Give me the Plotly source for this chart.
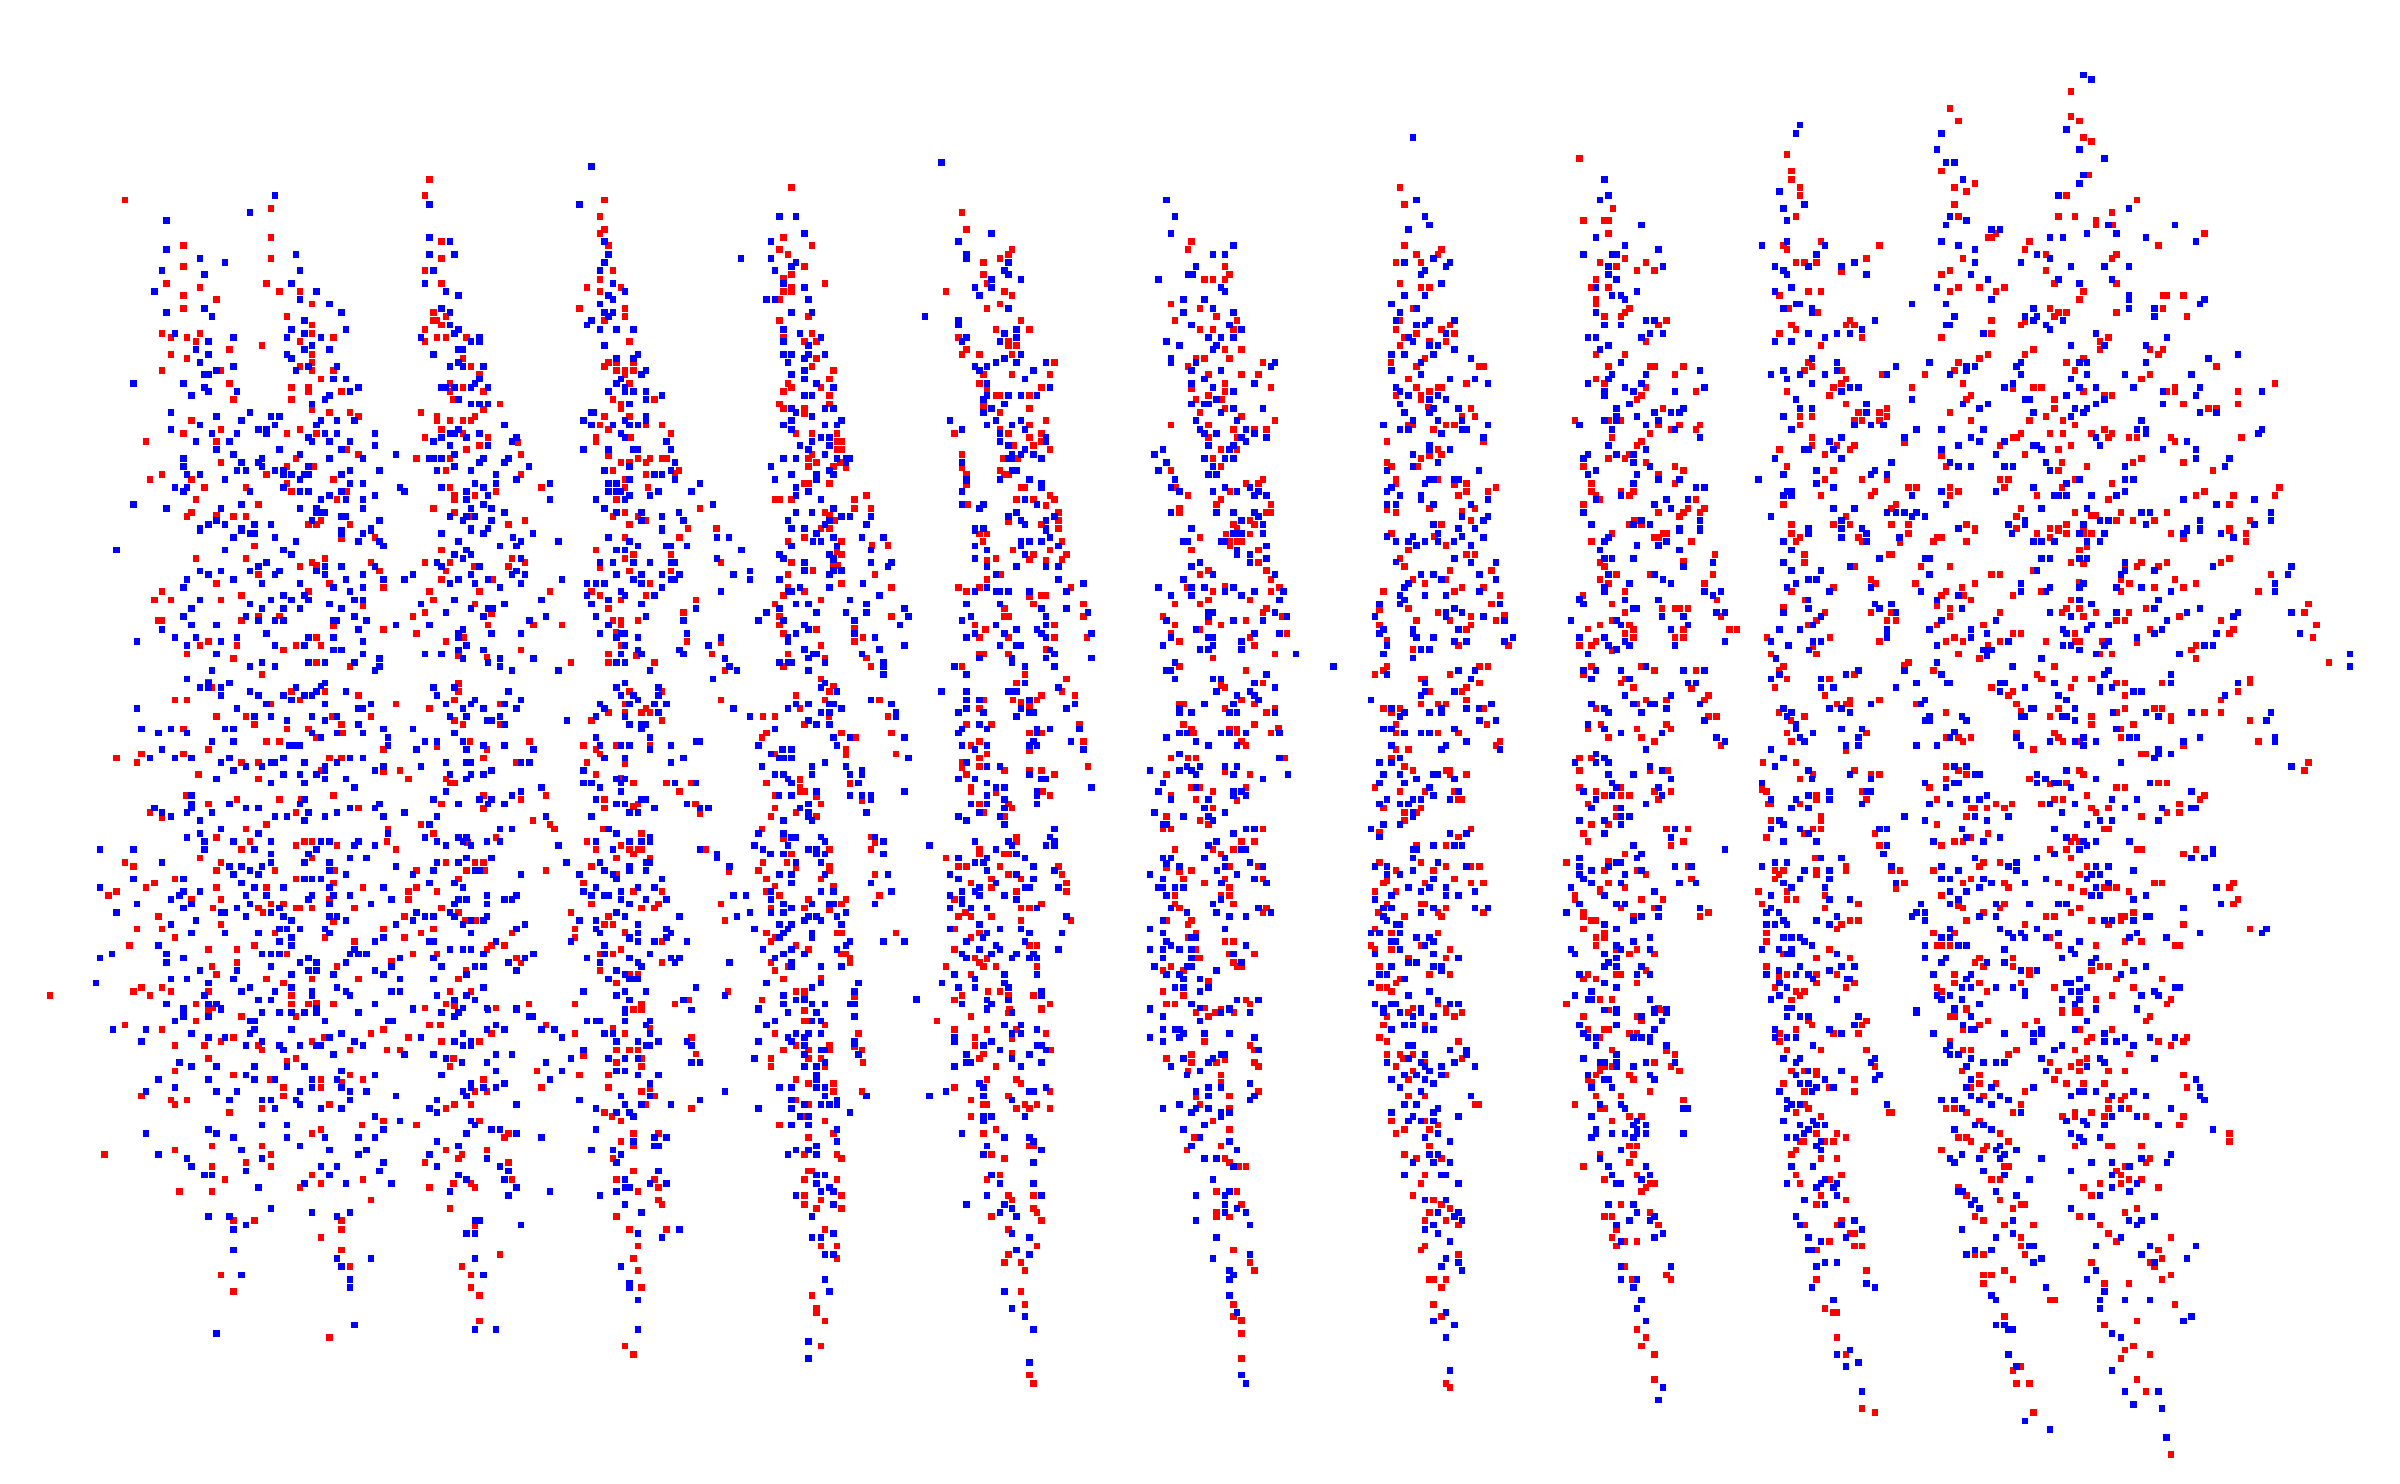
import plotly.graph_objects as go

# Values, grouped by the part of the plane they lie in.
# Each tile holds (u, v) readings; TILE_ORIGIN and the unit factors map them to plane units.
UNIT_U = 1.96
UNIT_V = 3.0

a_red = [(245,450),(842,388),(1551,412),(531,475),(833,437),(1185,450),(1176,499),(531,562),(360,587),(865,574),(1185,538),(1176,550),(1536,562),(1193,587),(1528,599),(1544,613),(531,625),(865,625),(360,650),(833,662),(1201,662),(1551,674),(1536,685),(326,700),(522,700),(865,700),(1176,688),(392,712),(548,724),(588,724),(1151,712),(1176,724),(1217,712),(1551,712),(1536,724),(1551,724),(360,737),(424,749),(1529,749),(612,762),(360,775),(850,787),(1136,775),(1225,775),(563,799),(874,799),(1225,799),(850,812),(857,812),(1185,812),(1528,812),(612,825),(865,825),(833,838),(318,850),(392,850),(612,850),(335,862),(367,862),(654,862),(857,862),(874,862),(914,862),(384,874),(588,874),(833,874),(1234,874),(1536,862),(514,887),(450,899),(335,913),(612,913),(367,925),(907,925),(612,937),(1193,937),(1208,937),(1242,937),(588,949),(923,949),(1185,949),(318,962),(433,962),(612,962),(654,962),(1208,962),(1225,962),(1242,962),(940,974),(1225,974),(629,987),(450,1000),(882,1000),(1234,1000),(1544,1000),(571,1012),(605,1012),(907,1012),(1551,1012),(605,1024),(669,1024),(882,1024),(948,1024),(1536,1024),(458,1049),(571,1049),(889,1049),(1201,1049),(1283,1049),(980,1062),(1217,1062),(1528,1062),(612,1078),(948,1078),(1217,1075),(1536,1075),(646,1087),(686,1087),(825,1087),(703,1099),(857,1099),(931,1099),(1185,1099),(1234,1099),(375,1112),(857,1112),(882,1112),(907,1112),(923,1112),(433,1138),(588,1138),(865,1138),(1193,1138),(1176,1125),(1298,1125),(1266,1125),(360,1150),(563,1150),(620,1150),(907,1150),(1315,1150),(1560,1150),(286,1174),(424,1174),(833,1162),(956,1162),(1168,1162),(1168,1174),(1236,1162),(1015,1178),(680,1199),(914,1199),(940,1187),(703,1213),(1021,1213),(1193,1216),(580,1225),(816,1225),(882,1225),(1250,1225),(1274,1225),(1298,1225),(1306,1225),(433,1237),(1217,1237),(1234,1237),(1266,1237),(563,1249),(614,1249),(318,1274),(522,1274),(874,1262),(1021,1274),(1201,1262),(1331,1262),(1266,1274),(1323,1270),(294,1288),(375,1288),(654,1288),(1225,1288),(563,1300),(401,1312),(482,1312),(882,1312),(1061,1312),(1225,1312),(1270,1312),(571,1324),(680,1324),(972,1324),(891,1337),(931,1337),(384,1349),(661,1349),(891,1349),(1208,1349),(1519,1349),(1528,1349),(1551,1349),(507,1363),(850,1375),(1372,1375),(375,1387),(891,1387),(1225,1387),(367,1399),(424,1396),(458,1399),(482,1399),(923,1399),(1201,1399),(1250,1399),(629,1412),(1266,1412),(1029,1412),(605,1424),(620,1424),(686,1424),(997,1424),(1234,1424),(1348,1436),(1404,1436)]
a_blue = [(1159,349),(539,437),(842,463),(1136,463),(490,487),(326,512),(1528,499),(1560,499),(842,562),(882,574),(1185,574),(1511,574),(326,599),(580,613),(842,613),(891,613),(1193,613),(392,625),(1452,625),(1511,625),(441,637),(1185,637),(1560,637),(1551,650),(318,662),(588,662),(850,662),(1176,662),(1519,662),(401,674),(571,700),(833,700),(1201,700),(1536,700),(303,724),(620,724),(874,724),(1225,724),(899,737),(1193,737),(588,749),(1201,749),(1502,749),(1519,749),(646,762),(1176,762),(865,775),(326,787),(401,775),(669,787),(882,787),(1185,787),(1201,787),(1551,787),(416,799),(1193,799),(597,812),(1159,812),(882,825),(1151,825),(571,838),(678,838),(899,838),(1176,838),(1208,838),(1242,838),(1536,838),(343,850),(597,850),(891,850),(1568,850),(458,862),(563,862),(629,862),(825,862),(940,862),(409,874),(923,874),(940,874),(1536,874),(384,899),(612,887),(1185,887),(597,899),(646,899),(899,899),(907,899),(409,913),(563,913),(850,913),(1250,913),(1536,913),(1551,913),(571,925),(1208,925),(1242,925),(392,937),(899,937),(1544,937),(458,949),(605,949),(661,949),(882,949),(907,949),(948,949),(580,962),(424,962),(1266,962),(401,974),(409,974),(1257,974),(1551,974),(940,987),(1217,987),(654,987),(678,987),(262,1000),(360,1000),(931,1000),(1208,1000),(401,1012),(703,1012),(865,1012),(874,1012),(891,1012),(923,1012),(956,1012),(1225,1012),(409,1024),(465,1024),(686,1024),(1193,1024),(1225,1024),(1242,1024),(1266,1024),(375,1037),(646,1037),(1298,1037),(637,1049),(899,1049),(1266,1049),(612,1062),(923,1062),(940,1062),(956,1062),(1234,1062),(335,1087),(490,1087),(1159,1087),(1164,1087),(1551,1075),(1560,1087),(424,1099),(531,1099),(548,1099),(1266,1099),(473,1112),(629,1112),(661,1112),(695,1112),(1144,1112),(1225,1112),(1266,1112),(1551,1112),(392,1125),(539,1125),(620,1125),(989,1125),(1159,1125),(1201,1125),(1234,1125),(1250,1125),(1536,1125),(335,1138),(507,1138),(522,1138),(899,1138),(1551,1138),(416,1150),(465,1150),(522,1150),(637,1150),(661,1150),(735,1150),(882,1150),(891,1150),(940,1150),(1217,1150),(605,1162),(865,1162),(914,1162),(1012,1162),(1225,1162),(384,1174),(450,1174),(612,1174),(646,1174),(686,1174),(850,1174),(1004,1174),(1306,1174),(735,1187),(882,1187),(956,1187),(1568,1187),(424,1199),(548,1199),(669,1199),(1144,1199),(1193,1199),(1242,1199),(1250,1199),(1315,1199),(458,1213),(588,1213),(776,1213),(891,1213),(360,1225),(514,1225),(646,1225),(711,1225),(842,1225),(850,1225),(865,1225),(948,1225),(997,1225),(1536,1225),(1560,1225),(473,1237),(507,1237),(940,1237),(989,1237),(1323,1237),(360,1249),(514,1249),(605,1249),(891,1249),(1037,1249),(1234,1249),(1511,1249),(465,1262),(482,1262),(539,1262),(556,1262),(686,1262),(744,1262),(857,1262),(923,1262),(1185,1262),(1315,1262),(367,1274),(392,1274),(556,1274),(571,1274),(597,1274),(605,1274),(669,1274),(972,1274),(1283,1274),(1298,1274),(1551,1274),(441,1288),(588,1288),(1012,1288),(1234,1288),(1323,1288),(1519,1288),(686,1300),(711,1300),(931,1300),(972,1300),(1078,1300),(1193,1300),(1208,1300),(1372,1300),(343,1312),(367,1312),(556,1312),(784,1312),(865,1312),(948,1312),(1560,1312),(360,1324),(490,1324),(588,1324),(605,1324),(669,1324),(793,1324),(914,1324),(1193,1324),(1208,1324),(1217,1324),(1291,1324),(1355,1324),(646,1337),(735,1337),(956,1337),(1234,1337),(1274,1337),(1560,1337),(629,1349),(678,1349),(711,1349),(914,1349),(1078,1349),(1168,1349),(1225,1349),(262,1363),(473,1363),(948,1363),(1397,1363),(326,1375),(433,1375),(588,1375),(620,1375),(711,1375),(923,1375),(963,1375),(1185,1375),(620,1387),(629,1387),(637,1387),(989,1387),(1208,1387),(1257,1387),(1331,1387),(1560,1387),(669,1399),(678,1399),(882,1399),(914,1399),(931,1399),(1298,1399),(424,1412),(612,1412),(744,1412),(907,1412),(963,1412),(1257,1412),(1340,1412),(1544,1412),(409,1424),(441,1424),(499,1424),(531,1424),(392,1436),(473,1436),(727,1436),(923,1436),(956,1436),(1298,1436),(1551,1436)]

b_red = [(318,487),(326,538),(24,587),(9,650),(49,700),(767,574),(760,599),(1176,412),(1185,463),(1528,325),(1593,475),(1536,512),(1185,587),(1208,613),(1257,599),(1250,613),(416,599),(409,613),(392,625),(360,637),(833,650),(1168,637),(1217,637),(360,674),(842,674),(793,688),(809,688),(833,688),(367,700),(1176,700),(1560,688),(1217,712),(1234,712),(286,724),(401,724),(1551,712),(416,737),(392,762),(727,762),(1560,749),(1560,762),(367,775),(784,775),(1201,775),(17,799),(816,799),(433,812),(735,812),(857,812),(1176,812),(1274,825),(24,850),(384,838),(450,838),(784,838),(809,838),(850,838),(1168,838),(1257,838),(1208,850),(1283,850),(311,862),(1185,862),(9,874),(32,874),(409,874),(1234,874),(1266,874),(409,887),(424,887),(1176,887),(326,899),(833,899),(865,899),(318,913),(352,913),(416,913),(1560,913),(32,925),(776,925),(793,925),(842,925),(1225,925),(499,937),(907,937),(24,949),(760,949),(1158,937),(1208,949),(1331,949),(1340,949),(66,962),(360,974),(416,974),(490,974),(801,974),(865,974),(899,974),(58,987),(1193,987),(1560,987),(352,1000),(833,1000),(1306,1000),(41,1012),(367,1016),(473,1012),(923,1012),(1208,1012),(1250,1012),(1257,1012),(767,1016),(833,1024),(1234,1024),(58,1037),(384,1037),(392,1037),(450,1037),(801,1037),(1168,1037),(1217,1037),(776,1049),(826,1049),(1217,1049),(58,1062),(360,1066),(9,1075),(392,1087),(450,1075),(784,1087),(833,1075),(1232,1071),(1315,1075),(9,1090),(865,1099),(1298,1099),(1323,1099),(482,1112),(931,1112),(1519,1112),(450,1125),(727,1125),(801,1125),(1193,1125),(1201,1125),(1266,1125),(1283,1125),(392,1138),(850,1138),(891,1138),(914,1138),(1242,1138),(24,1150),(73,1150),(303,1150),(409,1150),(473,1150),(450,1162),(801,1162),(857,1162),(73,1174),(81,1174),(473,1174),(1151,1174),(1340,1174),(73,1199),(81,1199),(458,1187),(490,1199),(419,1187),(825,1199),(857,1199),(24,1213),(318,1213),(1250,1199),(1257,1213),(17,1225),(399,1225),(426,1225),(809,1225),(1217,1225),(1234,1216),(32,1237),(17,1249),(66,1249),(79,1237),(90,1252),(318,1252),(825,1249),(1151,1237),(1159,1249),(1210,1249),(1536,1249),(392,1262),(727,1262),(326,1274),(401,1274),(409,1274),(907,1288),(1168,1288),(1250,1288),(9,1300),(17,1300),(58,1300),(326,1304),(737,1312),(874,1300),(899,1300),(1168,1300),(1283,1304),(1306,1300),(1551,1300),(433,1312),(441,1312),(1364,1312),(1306,1324),(1348,1324),(843,1324),(1551,1324),(130,1337),(490,1337),(760,1337),(1291,1337),(1560,1337),(107,1349),(424,1349),(458,1349),(499,1349),(825,1349),(329,1363),(107,1375),(139,1375),(482,1366),(816,1363),(923,1363),(1536,1363),(744,1375),(1234,1375),(1323,1375),(49,1387),(58,1396),(507,1387),(744,1387),(914,1387),(923,1387),(1151,1379),(1168,1387),(1298,1384),(68,1412),(409,1416),(507,1412),(882,1412),(1315,1412),(41,1436),(58,1436),(473,1424),(850,1424),(891,1424),(1257,1424),(507,1436),(857,1436)]
b_blue = [(277,337),(1201,262),(718,450),(1208,450),(735,499),(1225,499),(1234,525),(9,550),(375,550),(727,550),(1193,538),(311,574),(850,587),(1560,562),(326,613),(326,625),(809,613),(833,613),(1536,613),(409,637),(1185,637),(1242,625),(1274,637),(776,650),(1266,650),(401,662),(1225,662),(409,674),(760,674),(769,674),(1217,674),(375,688),(433,688),(703,688),(1257,700),(343,712),(375,712),(9,712),(825,712),(1560,712),(833,724),(352,737),(1185,737),(1225,737),(17,749),(752,749),(793,749),(1159,762),(409,775),(809,775),(1208,775),(24,787),(752,787),(850,787),(1176,787),(1560,787),(245,799),(311,812),(311,825),(767,825),(842,825),(1168,812),(1234,812),(1283,812),(1208,825),(1225,825),(424,838),(865,838),(401,850),(1266,850),(41,862),(326,862),(424,862),(801,862),(825,862),(850,862),(1193,862),(1544,862),(1560,862),(318,874),(392,874),(718,874),(1201,874),(17,887),(744,887),(816,887),(1234,887),(1250,887),(809,899),(1283,899),(17,913),(49,913),(433,913),(1159,913),(1185,913),(1242,913),(9,925),(401,925),(727,925),(1315,925),(384,937),(424,937),(482,937),(727,937),(776,937),(931,937),(1217,937),(343,949),(367,949),(923,949),(9,962),(352,962),(458,962),(767,962),(825,962),(1159,962),(1217,974),(9,987),(441,987),(793,987),(1274,987),(1323,987),(32,1000),(367,1000),(767,1000),(891,1000),(1348,1000),(1544,1000),(66,1012),(490,1012),(809,1012),(1168,1012),(9,1037),(24,1037),(367,1037),(409,1037),(433,1037),(465,1037),(1176,1024),(850,1024),(1193,1037),(1250,1037),(360,1049),(816,1049),(1234,1049),(1266,1049),(401,1062),(767,1062),(793,1062),(801,1062),(1176,1062),(49,1075),(66,1075),(375,1075),(850,1075),(907,1075),(1242,1075),(1291,1075),(360,1087),(825,1087),(1185,1087),(1234,1087),(24,1099),(81,1112),(294,1112),(384,1112),(433,1112),(776,1112),(857,1112),(1201,1112),(1250,1112),(1298,1112),(49,1125),(73,1125),(367,1125),(416,1125),(1144,1125),(1348,1125),(1528,1125),(318,1138),(441,1138),(784,1138),(874,1138),(1176,1138),(1193,1138),(1298,1138),(1306,1138),(392,1150),(793,1150),(816,1150),(891,1150),(1257,1150),(41,1162),(58,1162),(482,1162),(865,1162),(914,1162),(1340,1162),(24,1174),(392,1174),(482,1174),(874,1174),(58,1187),(409,1187),(801,1187),(850,1187),(1234,1187),(17,1199),(441,1199),(711,1199),(842,1199),(1234,1199),(1274,1199),(49,1213),(416,1213),(433,1213),(458,1213),(695,1213),(1201,1213),(1544,1213),(73,1225),(90,1225),(98,1225),(409,1225),(416,1225),(473,1225),(793,1225),(833,1225),(850,1225),(1536,1225),(90,1237),(318,1237),(718,1237),(1250,1237),(809,1249),(1201,1249),(58,1262),(416,1262),(424,1262),(703,1262),(1151,1262),(1331,1262),(1560,1262),(32,1274),(66,1274),(801,1274),(816,1274),(1544,1274),(32,1288),(326,1288),(392,1288),(450,1288),(735,1288),(1234,1288),(1242,1288),(1283,1288),(1291,1288),(473,1300),(1225,1300),(326,1292),(473,1312),(727,1312),(833,1312),(882,1312),(1159,1312),(17,1324),(318,1324),(744,1324),(809,1324),(857,1324),(899,1324),(1151,1324),(891,1337),(914,1337),(1176,1337),(1217,1337),(41,1349),(441,1349),(1217,1349),(1348,1349),(1560,1349),(66,1375),(318,1363),(360,1363),(465,1363),(1151,1363),(1168,1363),(1242,1363),(1315,1363),(352,1375),(24,1387),(424,1387),(727,1387),(816,1387),(850,1387),(891,1387),(1536,1387),(81,1399),(98,1399),(139,1399),(409,1399),(499,1399),(899,1399),(1298,1399),(1348,1399),(58,1412),(433,1412),(482,1412),(865,1412),(1340,1412),(49,1424),(130,1424),(441,1424),(907,1424),(1242,1424),(1551,1424),(9,1436),(343,1436),(360,1436),(482,1436),(767,1436),(1291,1436),(1323,1436)]

c_red = [(923,124),(686,176),(703,213),(923,199),(940,213),(367,313),(948,262),(963,274),(375,363),(669,363),(375,388),(958,375),(392,412),(735,400),(695,412),(718,424),(392,437),(914,437),(1053,450),(695,463),(384,499),(703,499),(899,499),(931,499),(1004,487),(972,512),(972,525),(1005,525),(9,512),(17,512),(17,550),(1185,550),(760,562),(767,562),(776,550),(842,574),(433,574),(360,587),(367,599),(548,587),(1095,587),(833,599),(874,613),(1012,613),(49,625),(522,625),(711,625),(1004,625),(0,637),(90,637),(384,637),(401,637),(424,637),(32,650),(73,662),(107,662),(473,664),(686,662),(874,662),(669,674),(891,700),(1012,700),(17,712),(703,712),(744,712),(793,712),(409,724),(433,724),(686,724),(776,724),(948,724),(352,737),(1103,737),(1111,737),(1144,737),(940,749),(58,775),(370,775),(882,775),(1103,775),(49,787),(427,787),(899,787),(914,787),(1012,787),(9,799),(41,799),(891,799),(1151,799),(130,812),(490,812),(767,812),(833,816),(115,825),(375,825),(482,825),(499,825),(825,825),(384,838),(352,850),(767,850),(90,874),(514,862),(669,862),(997,862),(980,874),(433,887),(850,899),(980,899),(1078,899),(1103,899),(49,913),(760,913),(833,913),(1095,913),(948,925),(744,925),(409,937),(703,937),(914,937),(17,949),(98,949),(107,949),(164,949),(416,949),(1208,949),(401,962),(473,962),(695,962),(931,962),(147,974),(554,974),(637,974),(1078,974),(482,987),(1061,987),(9,1000),(473,1000),(711,1000),(1323,1000),(90,1012),(458,1012),(612,1012),(850,1012),(865,1012),(1127,1012),(809,1016),(188,1024),(367,1024),(948,1024),(1111,1024),(1127,1024),(1250,1024),(81,1037),(450,1037),(727,1037),(989,1037),(1004,1037),(73,1049),(718,1049),(891,1049),(482,1062),(1144,1062),(1250,1062),(123,1075),(563,1075),(891,1075),(1193,1075),(1208,1075),(507,1087),(548,1087),(686,1087),(392,1099),(416,1099),(563,1099),(874,1099),(17,1112),(41,1112),(499,1112),(514,1112),(548,1112),(727,1112),(842,1112),(907,1112),(115,1125),(156,1125),(196,1125),(392,1125),(931,1125),(139,1138),(188,1138),(989,1138),(98,1150),(825,1150),(882,1150),(907,1150),(963,1150),(1004,1150),(24,1162),(416,1162),(809,1162),(816,1162),(997,1162),(1037,1162),(1053,1162),(1119,1162),(1257,1162),(81,1174),(1127,1174),(597,1178),(73,1187),(416,1187),(465,1187),(499,1187),(784,1187),(923,1187),(352,1199),(490,1199),(899,1199),(441,1213),(669,1216),(833,1213),(17,1225),(49,1225),(58,1213),(1061,1225),(90,1237),(906,1237),(1045,1237),(1144,1237),(147,1249),(367,1249),(678,1249),(955,1249),(164,1262),(458,1262),(899,1262),(1201,1262),(115,1274),(441,1288),(514,1288),(563,1290),(784,1288),(801,1288),(931,1288),(147,1300),(1004,1300),(605,1312),(620,1312),(686,1312),(793,1312),(906,1312),(1332,1312),(41,1324),(66,1324),(539,1324),(703,1324),(1185,1324),(58,1337),(433,1337),(531,1337),(686,1337),(857,1337),(1168,1337),(1242,1337),(1323,1337),(0,1349),(188,1349),(997,1349),(360,1363),(580,1363),(1234,1363),(172,1375),(205,1375),(571,1375),(825,1375),(115,1387),(164,1387),(196,1387),(931,1387),(963,1396),(972,1396),(1021,1387),(1111,1387),(156,1399),(482,1399),(816,1399),(68,1412),(58,1424),(81,1424),(375,1424),(458,1424),(490,1424),(571,1424),(605,1424),(718,1424),(914,1424),(1012,1412),(1045,1412),(1087,1412),(1274,1412),(735,1436),(816,1436),(882,1436),(899,1436),(948,1436),(1234,1436)]
c_blue = [(948,75),(963,88),(392,225),(384,250),(669,250),(914,238),(661,299),(940,299),(989,325),(678,337),(695,337),(948,375),(9,388),(711,388),(940,400),(352,424),(17,437),(899,437),(0,450),(401,463),(360,475),(1037,475),(686,499),(367,512),(718,512),(81,525),(678,525),(997,525),(1127,525),(767,538),(784,538),(955,550),(1012,550),(882,562),(907,562),(1070,562),(367,574),(669,574),(1168,574),(49,587),(318,587),(441,587),(703,587),(115,599),(735,599),(24,613),(32,613),(424,613),(857,613),(882,625),(499,637),(735,637),(825,637),(17,650),(123,650),(343,650),(409,650),(473,650),(923,650),(989,650),(1037,650),(360,662),(17,674),(367,674),(522,674),(727,674),(32,688),(760,688),(899,688),(1004,688),(940,700),(375,712),(661,712),(73,724),(343,724),(24,737),(41,737),(1037,737),(49,749),(767,749),(1037,749),(1185,749),(384,762),(392,762),(612,762),(678,762),(1176,762),(360,775),(416,775),(850,775),(1037,775),(1087,775),(416,787),(695,799),(833,799),(857,799),(1087,799),(90,812),(107,812),(539,812),(850,812),(907,812),(9,825),(41,825),(678,825),(686,825),(874,825),(514,838),(882,838),(98,850),(123,850),(409,850),(465,850),(490,850),(752,850),(972,850),(81,862),(441,862),(1111,862),(343,874),(375,874),(17,887),(923,887),(989,887),(1070,887),(0,899),(416,925),(1193,925),(1250,913),(41,937),(465,937),(646,937),(825,937),(940,937),(955,937),(1070,937),(580,949),(718,949),(735,949),(816,949),(196,962),(360,962),(465,962),(718,962),(24,974),(90,974),(335,974),(392,974),(441,974),(563,974),(686,974),(825,974),(955,974),(1029,974),(1159,974),(17,987),(367,987),(923,987),(81,1000),(416,1000),(809,1000),(49,1012),(205,1012),(490,1012),(507,1012),(793,1012),(940,1012),(972,1012),(1046,1012),(1176,1012),(9,1024),(66,1024),(147,1024),(473,1024),(1103,1024),(1298,1024),(9,1037),(914,1037),(1168,1037),(384,1049),(612,1049),(833,1049),(842,1049),(989,1049),(58,1062),(522,1062),(711,1062),(760,1062),(972,1062),(1103,1062),(32,1075),(164,1075),(392,1075),(416,1075),(744,1075),(931,1075),(955,1075),(107,1087),(139,1087),(156,1087),(522,1087),(850,1087),(948,1087),(1176,1087),(1208,1087),(32,1099),(73,1099),(360,1099),(923,1099),(9,1112),(32,1112),(115,1112),(1061,1112),(90,1125),(499,1125),(531,1125),(556,1125),(24,1138),(147,1138),(375,1138),(620,1138),(669,1138),(752,1138),(1053,1138),(1070,1138),(1298,1138),(1070,1150),(1291,1150),(196,1162),(473,1162),(597,1162),(727,1162),(972,1162),(450,1174),(744,1174),(793,1174),(1151,1174),(17,1187),(703,1187),(850,1187),(857,1187),(980,1187),(90,1199),(401,1199),(409,1199),(458,1199),(669,1199),(865,1199),(1103,1199),(1168,1199),(32,1213),(66,1213),(776,1213),(343,1225),(473,1225),(1168,1225),(1234,1225),(66,1237),(571,1237),(686,1237),(874,1237),(98,1249),(703,1249),(727,1249),(793,1249),(809,1249),(1029,1249),(1225,1249),(424,1262),(539,1262),(882,1262),(73,1274),(360,1274),(531,1274),(563,1274),(115,1288),(156,1288),(311,1288),(940,1288),(1029,1288),(1046,1288),(66,1300),(424,1300),(188,1312),(205,1312),(458,1312),(850,1312),(367,1324),(375,1324),(669,1324),(776,1324),(914,1300),(1029,1324),(41,1337),(360,1337),(375,1337),(612,1337),(891,1337),(899,1337),(914,1337),(963,1337),(1012,1337),(130,1349),(172,1349),(1144,1349),(1283,1349),(107,1363),(678,1363),(1208,1363),(139,1375),(458,1375),(499,1375),(865,1375),(955,1375),(563,1387),(580,1387),(597,1387),(620,1387),(1061,1387),(1078,1387),(1315,1387),(335,1399),(612,1399),(637,1399),(81,1412),(196,1412),(473,1412),(833,1412),(980,1412),(997,1412),(1176,1412),(1315,1412),(66,1424),(98,1424),(801,1424),(833,1424),(948,1424),(1070,1424),(1283,1424),(156,1436),(196,1436),(409,1436),(473,1436),(514,1436),(703,1436),(1151,1436),(1176,1436)]

d_red = [(499,48),(735,22),(669,26),(1332,22),(1225,22),(384,85),(482,85),(637,85),(865,60),(1168,60),(1242,73),(1315,73),(1544,35),(1225,85),(612,97),(727,97),(833,97),(882,97),(1004,85),(1029,97),(588,109),(620,105),(929,109),(997,109),(1413,97),(1551,97),(744,123),(874,123),(1176,113),(1234,123),(507,134),(1315,123),(1544,134),(424,160),(646,160),(865,148),(965,148),(1274,160),(752,172),(1544,172),(318,184),(605,184),(842,184),(940,184),(1078,184),(1159,184),(303,210),(335,210),(433,210),(473,197),(850,210),(1176,197),(1266,197),(1217,210),(1364,210),(1536,197),(711,226),(931,222),(1519,222),(833,247),(1193,235),(1340,247),(507,258),(548,258),(809,260),(963,252),(1528,260),(311,272),(318,272),(473,272),(1201,272),(1217,272),(1250,272),(654,287),(956,285),(1046,285),(1102,285),(1217,285),(1528,285),(752,298),(816,310),(1207,306),(1536,310),(409,334),(620,322),(874,334),(908,322),(1347,334),(392,347),(465,347),(580,347),(629,347),(1413,338),(1217,347),(556,360),(1021,360),(367,372),(899,376),(1193,372),(1396,372),(1544,372),(458,385),(955,381),(1248,376),(620,397),(686,409),(1119,397),(1193,397),(1283,397),(1421,422),(1536,410),(514,434),(409,457),(899,460),(416,472),(571,484),(637,484),(899,484),(1234,484),(1298,484),(703,497),(343,510),(367,510),(588,510),(891,510),(1413,510),(1560,497),(531,522),(776,522),(980,522),(1225,522),(1266,535),(842,535),(1193,547),(1225,547),(1257,547),(1274,547),(1568,535),(424,559),(482,559),(651,559),(727,559),(1495,559),(1519,559),(891,572),(1159,572),(1298,572),(499,584),(669,584),(907,584),(980,584),(360,597),(563,597),(605,597),(1502,609),(671,609),(620,622),(1494,622),(522,634),(548,634),(921,634),(1038,634),(1144,647),(1207,647),(1274,647),(409,659),(752,659),(857,650),(955,659),(1168,659),(360,672),(277,672),(228,684),(1176,672),(646,684),(669,684),(948,684),(269,697),(473,697),(507,697),(1012,697),(1151,697),(1225,702),(1519,672),(630,722),(752,724),(784,722),(389,734),(1168,734),(507,747),(801,747),(874,747),(882,759),(891,759),(1217,744),(1242,759),(1306,759),(1355,759),(1502,759),(1332,784),(1568,772),(366,797),(654,797),(948,797),(1070,797),(1568,784),(1519,797),(465,809),(548,809),(590,809),(1021,809),(1185,809),(1250,822),(409,822),(865,822),(1363,822),(1185,834),(1242,830),(703,834),(1519,834),(294,847),(580,847),(948,836),(1372,851),(1511,859),(1560,847),(318,863),(522,884),(1045,872),(825,884),(1078,884),(482,897),(760,897),(1087,897),(1182,897),(1494,897),(850,910),(1257,910),(424,922),(972,922),(1536,927),(490,934),(580,947),(597,934),(612,934),(661,947),(759,934),(916,938),(1151,934),(1217,947),(473,959),(776,959),(1168,959),(1234,959),(1250,959),(1258,959),(1383,959),(612,984),(392,984),(1242,972),(1551,972),(1274,984),(1208,984),(245,997),(433,997),(874,997),(931,997),(948,997),(1495,997),(1543,997),(262,1009),(1159,1009),(424,1022),(539,1022),(816,1022),(657,1022),(914,1022),(950,1022),(1070,1022),(1429,1026),(1487,1022),(1560,1013),(1209,1032),(343,1047),(303,1059),(580,1047),(654,1059),(899,1047),(1144,1059),(1502,1047),(286,1072),(424,1072),(522,1072),(711,1072),(816,1072),(1519,1068),(228,1084),(801,1084),(857,1084),(1242,1084),(1298,1084),(1502,1084),(213,1097),(1528,1097),(375,1107),(433,1109),(646,1107),(801,1109),(531,1122),(556,1122),(1291,1122),(1159,1122),(1413,1122),(417,1134),(507,1134),(580,1134),(588,1134),(612,1134),(695,1134),(865,1134),(1257,1134),(1283,1134),(1511,1134),(515,1147),(899,1147),(1119,1147),(311,1159),(793,1159),(1193,1159),(654,1174),(912,1172),(932,1172),(1421,1172),(433,1184),(1185,1184),(1201,1184),(269,1197),(318,1197),(752,1197),(850,1197),(1127,1197),(1225,1207),(539,1209),(825,1209),(1004,1209),(1502,1209),(343,1222),(637,1222),(793,1222),(1127,1222),(1519,1222),(695,1234),(1298,1234),(1511,1234),(254,1247),(499,1247),(963,1247),(989,1247),(955,1259),(1217,1259),(1560,1247),(409,1259),(465,1259),(563,1272),(809,1272),(857,1272),(1176,1272),(1201,1272),(1012,1284),(767,1294),(1021,1299),(465,1297),(1298,1297),(1511,1297),(416,1309),(661,1309),(1544,1309),(913,1321),(424,1334),(1176,1322),(1519,1322),(1234,1334),(1250,1334),(522,1347),(556,1359),(612,1347),(703,1347),(899,1347),(1536,1347),(277,1372),(318,1372),(1208,1359),(262,1384),(335,1384),(409,1384),(882,1384),(923,1384),(1560,1384),(98,1397),(294,1397),(571,1397),(1427,1384),(620,1419),(384,1422),(571,1422),(605,1422),(654,1422),(874,1422),(1037,1422),(1127,1422),(1257,1422),(1323,1422),(1350,1410),(1494,1410),(417,1434),(833,1434),(891,1426),(972,1434),(1242,1438),(1257,1438)]
d_blue = [(473,2),(392,2),(669,10),(711,10),(727,2),(865,10),(923,2),(948,10),(1045,10),(1298,2),(458,22),(490,10),(499,10),(539,22),(669,2),(1193,22),(1405,22),(1429,22),(1005,22),(580,35),(703,35),(744,35),(899,35),(1021,35),(1095,35),(1234,35),(228,60),(441,60),(556,60),(752,48),(914,60),(980,48),(1012,48),(1208,60),(1225,60),(1250,48),(1306,48),(1315,48),(1347,48),(1453,60),(1551,48),(571,73),(891,73),(923,73),(907,85),(1021,85),(1405,85),(1528,73),(1536,85),(522,97),(857,97),(1176,97),(1201,97),(1242,97),(1274,97),(1315,97),(1323,97),(507,109),(637,109),(669,109),(735,109),(865,109),(940,109),(392,123),(433,123),(490,123),(548,123),(620,123),(1012,123),(1470,123),(409,134),(539,134),(637,134),(711,134),(809,134),(923,134),(1004,134),(1029,134),(1208,134),(1257,134),(1298,134),(1332,134),(1438,134),(367,148),(458,148),(678,148),(752,148),(793,148),(899,148),(956,148),(1102,148),(1242,148),(1323,148),(1470,148),(1528,148),(514,160),(588,160),(882,160),(931,160),(1021,160),(1151,160),(1168,160),(1185,160),(1257,160),(1315,148),(360,172),(654,172),(711,172),(980,172),(1298,172),(686,184),(1217,184),(1413,184),(1544,184),(1551,184),(556,197),(597,197),(1151,197),(1225,197),(1283,197),(392,210),(531,210),(571,210),(605,210),(695,210),(711,210),(891,210),(1061,210),(1193,210),(490,222),(646,222),(825,222),(989,222),(1159,222),(1257,222),(1560,222),(375,235),(514,235),(556,235),(588,235),(669,235),(923,235),(956,235),(965,235),(1364,235),(1528,235),(874,247),(1502,247),(360,260),(482,260),(695,260),(948,260),(1070,260),(1168,260),(1266,260),(507,272),(539,272),(556,272),(654,272),(661,272),(718,272),(1038,272),(1340,272),(1487,272),(1536,272),(375,285),(424,285),(776,285),(842,285),(1193,285),(318,298),(703,298),(907,298),(522,310),(963,310),(1021,310),(1176,310),(1217,310),(1225,310),(1347,310),(1560,310),(899,310),(343,322),(384,322),(465,322),(605,322),(654,322),(899,322),(1208,322),(1250,322),(1413,322),(1544,322),(269,334),(433,334),(711,334),(1544,334),(367,347),(539,347),(597,347),(914,347),(1225,347),(1389,347),(654,360),(669,360),(899,360),(948,360),(1250,360),(1332,360),(424,372),(711,372),(833,372),(865,372),(1217,372),(1257,372),(1340,372),(744,385),(907,385),(980,385),(1046,385),(1421,385),(605,397),(637,397),(514,397),(695,397),(956,397),(1208,397),(1225,397),(1528,397),(1544,397),(1551,397),(490,409),(539,409),(744,409),(980,409),(1430,409),(416,422),(735,422),(1004,422),(1095,422),(1274,422),(1445,422),(367,447),(1397,447),(409,459),(450,459),(637,459),(1225,459),(392,472),(409,472),(433,472),(580,472),(629,468),(850,472),(891,472),(1208,472),(1291,472),(490,484),(620,484),(678,484),(997,484),(433,497),(507,497),(556,497),(597,497),(612,497),(857,497),(1217,497),(1242,497),(1291,497),(571,510),(931,510),(1021,510),(1250,510),(522,522),(637,522),(727,522),(874,522),(923,522),(989,522),(1176,522),(1234,522),(1283,522),(1306,522),(1560,522),(269,535),(465,535),(703,535),(711,535),(907,535),(948,535),(1012,535),(1185,535),(1438,535),(1544,535),(1291,547),(499,559),(531,559),(612,559),(661,559),(882,559),(914,559),(980,559),(1168,559),(1225,559),(1470,559),(563,572),(637,572),(955,572),(963,572),(1111,572),(703,584),(989,584),(1234,584),(1257,584),(1266,584),(277,597),(335,597),(441,597),(458,597),(752,597),(809,597),(1257,597),(1519,597),(311,609),(367,609),(612,609),(661,609),(711,609),(891,609),(629,622),(760,622),(1168,622),(1274,622),(416,634),(458,634),(833,634),(857,634),(907,634),(1364,634),(1372,634),(567,647),(575,647),(588,647),(760,647),(948,647),(989,647),(1176,647),(1217,647),(1234,647),(1315,647),(1487,647),(318,659),(816,659),(914,659),(1046,659),(1274,659),(1534,659),(1551,659),(1511,672),(294,684),(343,684),(375,684),(450,684),(556,684),(686,684),(711,684),(1185,684),(1225,684),(1340,684),(1528,684),(1536,684),(1551,684),(433,697),(531,697),(539,697),(597,697),(661,697),(874,697),(914,697),(923,697),(1021,697),(1038,697),(1315,697),(482,709),(514,709),(637,709),(752,709),(825,709),(1494,709),(458,722),(637,722),(735,722),(963,722),(1144,722),(556,734),(588,734),(620,734),(882,734),(923,734),(948,734),(1519,734),(1536,734),(424,747),(637,747),(678,747),(914,747),(1208,747),(1225,747),(1544,747),(531,759),(597,759),(1144,759),(1159,759),(1217,759),(1323,759),(1364,759),(1551,759),(695,772),(1061,772),(1176,772),(874,784),(1021,784),(1217,784),(375,797),(1004,797),(1527,797),(1551,797),(597,809),(850,809),(940,809),(963,809),(1168,809),(1257,809),(1266,809),(375,822),(450,822),(588,822),(744,822),(899,822),(956,822),(989,822),(1208,822),(1225,822),(1347,822),(303,834),(375,834),(482,834),(507,834),(686,834),(735,834),(1283,834),(1372,834),(1389,834),(1568,834),(318,847),(367,847),(416,847),(605,847),(661,847),(793,847),(1234,847),(1250,847),(335,859),(539,859),(563,859),(637,859),(752,859),(857,859),(1070,859),(1159,859),(392,872),(597,872),(1536,872),(842,884),(433,897),(980,897),(1004,897),(1193,897),(392,910),(507,910),(760,910),(1208,910),(1487,910),(1536,910),(367,922),(833,922),(899,922),(914,922),(1274,922),(1551,922),(1560,922),(401,934),(458,934),(531,934),(629,934),(646,934),(703,934),(857,934),(907,934),(955,934),(980,934),(1168,934),(1234,934),(1257,934),(1274,934),(695,947),(735,947),(874,947),(923,947),(1095,947),(1479,947),(1544,947),(196,959),(262,959),(401,959),(499,959),(620,959),(1201,959),(1372,959),(1495,959),(531,972),(605,972),(1405,972),(1510,972),(1536,972),(686,984),(718,984),(914,984),(963,984),(1405,984),(318,997),(531,997),(597,997),(646,997),(857,997),(899,997),(1110,997),(1176,997),(1266,997),(1274,997),(1560,997),(450,1009),(473,1009),(514,1009),(776,1009),(1234,1009),(1430,1009),(490,1022),(646,1022),(850,1022),(931,1022),(940,1022),(1185,1022),(1234,1022),(1266,1022),(458,1034),(507,1034),(678,1034),(809,1034),(1021,1034),(1136,1034),(1201,1034),(1528,1034),(1551,1034),(262,1047),(360,1047),(597,1047),(612,1047),(629,1047),(1208,1047),(1298,1047),(473,1059),(842,1059),(891,1059),(1551,1059),(196,1072),(499,1072),(556,1072),(646,1072),(752,1072),(907,1072),(1168,1072),(1250,1072),(1283,1072),(360,1084),(392,1084),(1144,1084),(1217,1084),(1511,1084),(352,1097),(482,1097),(522,1097),(612,1097),(654,1097),(686,1097),(955,1097),(1012,1097),(1159,1097),(1185,1097),(1193,1097),(1438,1097),(1462,1097),(335,1109),(605,1109),(767,1109),(899,1109),(914,1109),(989,1109),(1004,1109),(1217,1109),(1266,1109),(1306,1109),(1511,1109),(269,1122),(375,1122),(490,1122),(646,1122),(727,1122),(891,1122),(955,1122),(1234,1122),(1536,1122),(360,1134),(465,1134),(548,1134),(1551,1134),(228,1147),(433,1147),(441,1147),(531,1147),(816,1147),(882,1147),(1208,1147),(1470,1147),(1511,1147),(1536,1147),(482,1159),(556,1159),(646,1159),(661,1159),(833,1159),(850,1159),(891,1159),(955,1159),(1225,1159),(1332,1159),(1445,1159),(384,1172),(571,1172),(678,1172),(809,1172),(923,1172),(948,1172),(1136,1172),(1168,1172),(335,1184),(776,1184),(907,1184),(1029,1184),(1250,1184),(1528,1184),(1551,1184),(548,1197),(563,1197),(588,1197),(637,1197),(1012,1197),(1168,1197),(1306,1197),(1479,1197),(1544,1197),(375,1209),(441,1209),(507,1209),(646,1209),(923,1209),(1176,1209),(1250,1209),(1315,1209),(1536,1209),(571,1222),(752,1222),(1234,1222),(1306,1222),(1528,1222),(548,1234),(735,1234),(842,1234),(850,1234),(972,1234),(1119,1234),(1234,1226),(1250,1234),(1283,1234),(1347,1234),(311,1247),(571,1247),(1185,1247),(695,1259),(882,1259),(907,1259),(923,1259),(1495,1259),(1551,1259),(220,1272),(326,1272),(514,1272),(531,1272),(548,1272),(686,1272),(703,1272),(718,1272),(948,1272),(1046,1272),(1185,1272),(1274,1272),(1536,1272),(196,1284),(360,1284),(605,1284),(784,1284),(850,1284),(1029,1284),(1151,1284),(1234,1284),(1315,1284),(1332,1284),(1519,1284),(326,1297),(588,1297),(620,1297),(678,1297),(997,1297),(1176,1297),(1250,1297),(1323,1297),(1430,1297),(1551,1297),(531,1309),(767,1309),(865,1309),(931,1309),(948,1309),(1257,1309),(1551,1309),(392,1322),(465,1322),(605,1322),(620,1322),(735,1322),(1012,1322),(1208,1322),(571,1334),(654,1334),(752,1334),(914,1334),(1225,1334),(335,1347),(367,1347),(458,1347),(784,1347),(850,1347),(1193,1347),(1234,1347),(1242,1347),(1250,1347),(188,1359),(409,1359),(1502,1359),(490,1372),(571,1372),(661,1372),(948,1372),(1364,1372),(473,1384),(539,1384),(612,1384),(678,1384),(767,1384),(784,1384),(1144,1384),(1225,1384),(1266,1384),(401,1397),(612,1397),(686,1397),(857,1397),(914,1397),(1208,1397),(1421,1397),(1536,1397),(507,1410),(531,1410),(891,1410),(931,1410),(1234,1410),(1340,1410),(1560,1410),(326,1422),(409,1422),(424,1422),(735,1422),(1536,1422),(360,1434),(433,1434),(620,1434),(809,1434),(907,1434),(955,1434),(1012,1434),(1225,1438),(1487,1434)]

e_red = [(9,22),(81,35),(141,47),(172,47),(73,60),(81,73),(73,66),(66,100),(74,107),(25,122),(147,134),(81,160),(179,172),(9,184),(41,210),(179,260),(32,298),(107,294),(123,322),(107,334),(41,347),(49,384),(130,384),(139,409),(41,447),(66,468),(58,484),(49,510),(156,510),(57,560),(172,559),(9,584),(81,609),(109,622),(179,609),(90,659),(90,674),(188,672),(98,760),(0,749),(9,784),(32,800),(122,812),(41,822),(32,859),(139,921),(147,938),(58,959),(139,959),(58,1009),(58,1021),(147,1034),(41,1047),(66,1068),(156,1097),(90,1109),(17,1109),(81,1122),(9,1134),(58,1138),(73,1209),(81,1209),(188,1209),(17,1259),(81,1272),(90,1272),(98,1284),(98,1297),(41,1344),(9,1384),(9,1396),(107,1401),(352,12),(367,12),(359,35),(514,35),(417,60),(490,60),(522,73),(458,73),(450,88),(514,88),(384,85),(367,92),(482,92),(393,134),(367,148),(311,172),(326,184),(352,172),(531,172),(473,197),(482,197),(450,200),(458,222),(556,222),(401,235),(401,260),(409,260),(556,260),(343,285),(499,285),(364,298),(352,322),(409,322),(499,322),(563,322),(482,359),(352,372),(360,372),(409,372),(318,409),(441,434),(522,447),(424,459),(514,484),(473,497),(539,497),(360,510),(417,510),(465,510),(433,518),(450,526),(352,535),(326,584),(375,584),(548,584),(450,609),(473,609),(352,634),(556,634),(335,647),(450,662),(367,672),(352,684),(318,697),(318,714),(352,709),(564,709),(401,722),(450,720),(473,722),(326,734),(499,734),(335,772),(335,784),(475,784),(384,789),(490,797),(409,822),(352,822),(416,834),(360,847),(401,859),(424,921),(424,934),(352,959),(352,972),(401,972),(409,972),(286,984),(311,1009),(326,1009),(392,1009),(507,1009),(409,1034),(514,1034),(335,1059),(375,1047),(433,1047),(375,1072),(522,1059),(424,1084),(522,1084),(303,1109),(473,1122),(433,1134),(450,1134),(324,1147),(311,1159),(335,1159),(375,1159),(433,1172),(531,1172),(303,1197),(367,1209),(352,1209),(335,1222),(450,1247),(465,1247),(303,1259),(343,1284),(367,1286),(352,1297),(286,1309),(360,1309),(384,1309),(465,1309),(335,1334),(368,1384),(392,1384),(458,1397),(318,1397),(409,1397),(303,1410),(490,1422),(473,1434),(411,1438),(835,12),(882,12),(784,22),(842,35),(857,35),(865,35),(843,48),(899,60),(767,60),(899,97),(801,122),(914,122),(784,134),(923,148),(759,172),(833,168),(940,172),(809,184),(923,184),(882,210),(801,210),(735,222),(784,222),(914,235),(907,247),(711,260),(945,260),(874,272),(801,275),(825,285),(735,285),(784,298),(727,310),(955,310),(882,322),(744,334),(891,347),(931,372),(809,384),(744,409),(874,422),(825,466),(833,472),(907,459),(865,510),(752,522),(744,522),(833,535),(891,522),(931,535),(914,547),(752,584),(891,584),(767,597),(842,597),(857,597),(938,594),(771,609),(857,609),(923,609),(865,634),(874,647),(727,684),(760,684),(776,684),(950,684),(833,726),(718,734),(882,734),(767,772),(784,772),(809,784),(874,772),(727,797),(776,809),(857,811),(809,834),(718,859),(784,872),(801,884),(711,897),(727,897),(907,897),(865,934),(891,934),(735,959),(809,959),(850,959),(825,972),(843,1009),(718,1013),(899,1009),(767,1022),(744,1026),(793,1059),(752,1047),(833,1047),(907,1047),(842,1072),(825,1096),(842,1097),(735,1097),(735,1122),(850,1122),(914,1134),(744,1134),(907,1147),(718,1172),(767,1172),(760,1184),(776,1209),(833,1234),(850,1234),(760,1222),(776,1259),(842,1272),(891,1272),(776,1284),(784,1284),(850,1297),(857,1309),(727,1309),(711,1322),(752,1322),(865,1309),(801,1355),(711,1384),(752,1397),(718,1422),(735,1422),(874,1410),(882,1422),(793,1434),(825,1438)]
e_blue = [(32,10),(122,22),(164,22),(66,22),(41,35),(25,35),(73,48),(139,60),(58,73),(66,85),(9,97),(66,90),(139,97),(179,97),(172,109),(9,122),(66,122),(81,122),(58,134),(123,160),(58,172),(0,172),(156,197),(98,210),(17,222),(130,222),(205,235),(32,247),(90,247),(130,247),(213,260),(107,272),(9,285),(196,285),(17,298),(107,310),(147,322),(205,347),(9,359),(156,359),(25,372),(32,372),(122,372),(17,384),(49,397),(164,397),(164,409),(17,422),(164,434),(49,459),(41,472),(73,484),(139,510),(17,522),(58,522),(66,522),(81,535),(179,522),(41,547),(58,547),(188,547),(188,559),(17,572),(32,584),(58,584),(66,622),(98,622),(205,622),(73,647),(213,684),(49,697),(24,709),(90,709),(122,722),(24,734),(98,734),(122,734),(115,759),(32,784),(205,784),(98,797),(122,797),(139,797),(139,809),(17,822),(17,847),(130,847),(17,859),(24,872),(41,921),(147,921),(49,934),(164,934),(17,959),(32,959),(32,972),(49,972),(164,972),(41,997),(49,1034),(172,1034),(139,1059),(41,1084),(66,1084),(179,1084),(24,1122),(58,1122),(66,1122),(147,1122),(90,1147),(17,1159),(32,1159),(73,1159),(9,1172),(41,1172),(81,1184),(24,1209),(24,1222),(98,1234),(164,1234),(205,1234),(90,1247),(73,1259),(9,1272),(41,1309),(81,1309),(41,1359),(115,1359),(24,1372),(107,1384),(9,1409),(228,1409),(24,1422),(49,1422),(98,1422),(107,1422),(343,2),(482,2),(490,22),(433,35),(450,35),(473,35),(343,48),(433,48),(507,48),(367,60),(441,73),(343,85),(367,109),(424,109),(482,109),(507,109),(384,134),(507,148),(556,160),(343,184),(367,172),(384,184),(392,184),(409,184),(450,184),(522,184),(326,222),(392,222),(473,235),(522,235),(335,260),(482,260),(564,247),(318,272),(384,285),(482,285),(343,310),(401,310),(424,298),(465,298),(473,310),(326,322),(482,322),(571,310),(392,347),(424,347),(433,347),(490,360),(499,372),(352,384),(416,384),(482,384),(571,384),(416,397),(303,409),(441,409),(499,409),(326,434),(441,459),(507,472),(277,484),(326,484),(409,484),(416,484),(424,484),(326,510),(352,510),(450,510),(539,522),(326,535),(433,535),(522,535),(311,547),(360,547),(450,547),(458,547),(424,559),(352,584),(318,597),(367,597),(465,597),(490,597),(548,597),(311,609),(465,609),(458,634),(531,634),(318,647),(367,647),(450,647),(465,647),(343,659),(556,659),(326,697),(367,709),(392,709),(450,734),(473,747),(482,747),(311,747),(343,747),(367,759),(384,772),(401,772),(571,772),(465,784),(367,797),(465,797),(401,809),(335,822),(367,822),(465,822),(401,834),(352,847),(311,859),(392,859),(326,872),(401,884),(499,897),(490,921),(343,934),(409,934),(482,947),(499,934),(254,947),(416,947),(499,947),(384,959),(424,972),(311,984),(367,984),(441,984),(343,997),(360,997),(458,1009),(367,1022),(499,1022),(294,1034),(424,1034),(311,1047),(458,1047),(384,1059),(352,1072),(441,1072),(450,1072),(507,1072),(318,1084),(343,1084),(294,1097),(352,1097),(401,1097),(318,1109),(424,1109),(318,1122),(294,1134),(335,1134),(367,1134),(465,1134),(522,1159),(352,1184),(294,1197),(392,1197),(433,1197),(367,1209),(450,1209),(514,1209),(359,1222),(326,1234),(441,1234),(352,1259),(392,1259),(384,1247),(507,1259),(318,1272),(375,1272),(424,1272),(458,1272),(326,1284),(416,1284),(450,1284),(465,1284),(303,1334),(401,1334),(465,1334),(343,1347),(278,1359),(401,1359),(311,1372),(343,1372),(409,1372),(473,1384),(473,1397),(409,1410),(367,1410),(318,1422),(375,1422),(367,1434),(760,34),(752,34),(825,34),(833,34),(850,10),(857,10),(865,10),(907,10),(914,48),(857,60),(857,73),(882,73),(784,97),(882,97),(914,85),(767,109),(809,134),(931,134),(752,148),(703,172),(767,172),(793,172),(850,172),(833,184),(891,184),(948,184),(727,197),(767,197),(865,197),(940,210),(801,247),(809,247),(931,247),(801,260),(955,260),(718,272),(850,272),(907,272),(776,298),(891,310),(940,310),(727,322),(801,322),(809,322),(865,334),(711,347),(809,347),(784,359),(801,359),(865,359),(972,372),(735,397),(718,422),(727,422),(1046,409),(914,434),(735,447),(809,447),(825,447),(891,459),(931,472),(816,484),(882,484),(857,497),(891,497),(899,510),(850,522),(793,522),(744,535),(744,547),(767,547),(842,547),(857,547),(931,547),(744,609),(759,609),(825,609),(842,609),(874,609),(940,609),(718,622),(776,634),(801,647),(857,647),(744,672),(940,684),(759,709),(784,709),(833,709),(857,709),(686,722),(744,722),(767,722),(776,734),(850,734),(956,734),(907,747),(711,759),(776,772),(703,784),(850,784),(865,784),(850,797),(874,797),(727,809),(801,809),(793,834),(695,847),(833,847),(752,859),(801,859),(809,872),(711,884),(718,884),(850,910),(874,897),(891,897),(816,934),(801,947),(865,959),(874,959),(711,984),(727,984),(793,984),(833,984),(882,997),(718,1000),(744,1009),(833,1009),(907,1009),(817,1022),(686,1034),(857,1034),(711,1047),(891,1047),(826,1059),(914,1059),(703,1072),(711,1072),(735,1072),(752,1072),(825,1109),(718,1097),(809,1122),(727,1134),(899,1134),(759,1147),(816,1147),(923,1147),(842,1159),(874,1159),(711,1172),(686,1197),(833,1197),(711,1209),(718,1234),(767,1222),(776,1222),(727,1247),(874,1247),(686,1259),(711,1259),(744,1259),(767,1259),(850,1272),(711,1284),(767,1284),(695,1309),(759,1309),(767,1309),(865,1297),(816,1322),(718,1334),(744,1334),(752,1347),(784,1347),(752,1372),(735,1372),(801,1372),(784,1384),(857,1410),(899,1410),(767,1422),(686,1434),(784,1434),(842,1434),(1151,20),(1168,34),(1193,34),(1201,20),(1225,34),(1250,34),(1250,10),(1298,20),(1315,46),(1340,22),(1282,34),(1208,46),(1168,96),(1283,85),(1315,97),(1364,97),(1217,134),(1242,134),(1332,134),(1193,160),(1185,172),(1257,148),(1364,148),(1176,197),(1225,197),(1266,197),(1332,184),(1185,210),(1136,222),(1176,222),(1372,222),(1266,247),(1298,247),(1283,235),(1266,260),(1340,260),(1127,260),(1381,272),(1144,298),(1201,298),(1291,298),(1136,310),(1201,310),(1208,322),(1242,322),(1283,334),(1306,334),(1381,334),(1397,322),(1151,347),(1217,359),(1234,359),(1144,372),(1201,384),(1291,422),(1323,422),(1151,434),(1315,447),(1225,459),(1283,484),(1225,484),(1217,497),(1119,510),(1355,522),(1159,535),(1234,547),(1257,535),(1257,547),(1306,535),(1331,535),(1185,547),(1176,559),(1332,572),(1364,572),(1144,597),(1159,597),(1283,597),(1185,609),(1217,609),(1234,609),(1306,634),(1159,647),(1266,647),(1257,659),(1372,659),(1136,697),(1159,697),(1176,684),(1144,734),(1176,734),(1208,747),(1242,734),(1250,734),(1283,747),(1136,759),(1185,759),(1234,772),(1291,784),(1242,797),(1151,809),(1201,809),(1217,809),(1274,809),(1136,822),(1176,822),(1193,822),(1201,847),(1201,859),(1144,884),(1176,884),(1119,897),(1274,910),(1306,910),(1136,921),(1242,947),(1283,947),(1298,947),(1201,959),(1208,959),(1201,984),(1250,997),(1127,1009),(1151,1009),(1306,1009),(1176,1034),(1151,1034),(1201,1022),(1242,1047),(1193,1072),(1234,1072),(1266,1072),(1323,1084),(1217,1084),(1159,1097),(1266,1097),(1291,1097),(1127,1109),(1144,1134),(1159,1134),(1217,1147),(1242,1134),(1323,1134),(1348,1134),(1144,1159),(1151,1172),(1168,1184),(1176,1184),(1119,1209),(1136,1209),(1176,1209),(1208,1222),(1234,1222),(1159,1234),(1168,1234),(1225,1247),(1242,1234),(1176,1259),(1127,1272),(1242,1272),(1291,1284),(1193,1297),(1208,1297),(1242,1309),(1159,1309),(1257,1309),(1257,1322),(1136,1334),(1151,1334),(1185,1347),(1119,1359),(1234,1384),(1193,1397),(1250,1410),(1127,1422),(1159,1422),(1168,1422),(1217,1434),(1274,1422),(1291,1422),(1144,1434)]
e_red_2 = [(1159,10),(1168,34),(1244,20),(1266,46),(1340,22),(1193,60),(1306,73),(1323,73),(1176,85),(1185,109),(1274,122),(1355,122),(1201,148),(1225,160),(1266,148),(1298,172),(1340,172),(1144,184),(1283,184),(1372,197),(1355,222),(1193,235),(1136,238),(1250,247),(1315,260),(1381,256),(1208,272),(1274,272),(1315,285),(1364,272),(1136,285),(1306,298),(1151,332),(1291,347),(1389,347),(1201,359),(1332,409),(1348,409),(1151,409),(1127,434),(1144,422),(1274,434),(1217,447),(1225,447),(1332,459),(1306,472),(1298,484),(1234,484),(1306,510),(1217,522),(1250,522),(1266,522),(1144,535),(1176,535),(1340,535),(1159,547),(1168,584),(1347,584),(1168,609),(1250,609),(1291,609),(1372,634),(1364,647),(1168,659),(1193,659),(1159,684),(1185,709),(1201,722),(1266,722),(1274,722),(1176,734),(1274,734),(1306,734),(1127,772),(1176,784),(1225,784),(1283,784),(1291,809),(1298,809),(1217,834),(1144,834),(1185,847),(1208,847),(1185,872),(1136,906),(1315,897),(1291,921),(1208,947),(1266,947),(1217,997),(1136,997),(1315,1009),(1332,1009),(1266,1009),(1168,1022),(1242,1022),(1225,1059),(1283,1047),(1151,1053),(1144,1059),(1315,1059),(1340,1059),(1127,1084),(1168,1084),(1151,1122),(1217,1122),(1225,1122),(1134,1147),(1266,1134),(1250,1147),(1257,1159),(1340,1147),(1185,1159),(1127,1197),(1250,1209),(1159,1209),(1217,1247),(1119,1247),(1127,1259),(1159,1259),(1274,1259),(1193,1284),(1266,1284),(1136,1309),(1234,1334),(1274,1334),(1176,1347),(1168,1359),(1136,1372),(1151,1372),(1159,1384),(1250,1422),(1201,1434),(1266,1434)]
e_red_3 = [(1551,35),(1568,60),(1568,97),(1568,148),(1535,197),(1568,285),(1544,297),(1560,334),(1551,347),(1528,347),(1551,409),(1536,434),(1560,535),(1544,597),(1536,910),(1544,934),(1502,997),(1528,684),(1551,684),(1528,722),(1528,772),(1544,822),(1551,884),(1560,784),(1519,1097),(1519,1109),(1536,1147),(1536,1159),(1551,1172),(1560,1172),(1536,1197),(1560,1222),(1560,1247),(1560,1347),(1536,1347),(1544,1334),(1502,1422),(1568,1078)]
e_blue_3 = [(1528,209),(1536,222),(1511,272),(1528,322),(1544,372),(1536,422),(1560,422),(1551,447),(1551,522),(1544,584),(1560,672),(1519,697),(1560,697),(1536,784),(1560,809),(1551,834),(1528,872),(1528,984),(1528,1009),(1551,1022),(1528,1034),(1536,1047),(1551,1059),(1511,1072),(1528,1122),(1502,1147),(1511,1259),(1519,1272),(1528,1334),(1551,1384),(1519,1397),(1544,1409),(1551,1409)]

f_red = [(24,10),(107,22),(115,22),(123,10),(131,10),(179,34),(225,73),(164,94),(9,109),(221,134),(32,134),(98,134),(205,160),(17,160),(49,184),(229,210),(24,222),(122,235),(147,235),(156,235),(172,235),(49,247),(237,260),(24,272),(58,285),(66,298),(164,298),(254,298),(269,298),(49,310),(66,322),(147,322),(164,322),(24,362),(81,409),(107,422),(188,422),(49,447),(41,459),(66,472),(179,476),(213,497),(90,510),(130,510),(73,522),(205,510),(213,559),(228,559),(2,584),(130,584),(139,597),(73,597),(81,622),(17,622),(107,634),(237,647),(98,722),(133,722),(139,784),(107,784),(41,772),(9,797),(41,797),(58,797),(115,809),(32,834),(32,859),(17,884),(130,897),(172,897),(164,934),(139,947),(49,972),(17,993),(73,1022),(172,1009),(9,1022),(90,1034),(179,1047),(49,1072),(17,1059),(0,1084),(81,1109),(123,1109),(41,1134),(107,1134),(66,1159),(196,1159),(213,1147),(9,1209),(9,1222),(58,1272),(107,1272),(73,1259),(32,1259),(90,1322),(32,1334),(41,1334),(73,1359),(24,1409),(0,1409),(115,1434),(375,10),(392,22),(384,35),(507,22),(514,35),(605,10),(588,38),(401,73),(401,97),(567,73),(571,73),(499,109),(629,109),(531,148),(540,160),(458,172),(375,184),(618,160),(402,210),(360,232),(441,247),(531,247),(571,247),(424,272),(563,272),(580,272),(408,285),(327,322),(451,322),(548,334),(417,350),(335,372),(424,372),(605,397),(597,405),(360,409),(351,422),(654,422),(499,434),(367,447),(450,447),(343,472),(441,497),(490,510),(548,510),(465,522),(482,522),(490,522),(619,522),(351,547),(401,559),(374,572),(522,609),(367,609),(375,634),(482,662),(319,697),(384,697),(499,722),(417,734),(531,734),(548,734),(392,747),(318,778),(326,784),(514,784),(424,797),(424,809),(522,809),(329,822),(335,822),(392,822),(433,859),(433,872),(335,872),(392,897),(417,897),(433,897),(400,910),(539,910),(326,922),(548,947),(422,984),(482,1009),(482,1022),(343,1022),(360,1022),(424,1022),(424,1034),(571,1022),(588,1022),(343,1047),(351,1034),(597,1059),(580,1075),(367,1084),(311,1084),(441,1097),(318,1122),(367,1109),(384,1109),(507,1122),(441,1134),(490,1172),(507,1172),(473,1184),(465,1197),(326,1209),(326,1234),(360,1272),(450,1259),(424,1284),(490,1284),(326,1309),(465,1334),(367,1334),(424,1334),(482,1372),(499,1359),(424,1359),(343,1372),(351,1343),(384,1384),(401,1384),(392,1397),(375,1410),(661,22),(718,35),(669,22),(735,2),(654,35),(686,109),(629,109),(767,134),(784,134),(850,122),(735,160),(710,172),(678,184),(669,197),(713,197),(727,210),(809,197),(618,160),(864,184),(661,226),(686,235),(784,247),(686,260),(752,285),(661,285),(809,310),(825,310),(695,322),(678,334),(711,334),(784,334),(874,334),(703,372),(760,347),(744,385),(661,397),(808,409),(891,409),(857,434),(865,447),(931,447),(963,447),(923,472),(767,472),(809,484),(801,497),(816,522),(825,544),(678,547),(899,535),(882,559),(963,559),(963,584),(816,609),(727,622),(703,622),(711,634),(891,609),(899,622),(907,634),(941,634),(678,622),(850,659),(678,709),(703,722),(718,734),(678,747),(842,747),(646,772),(914,759),(882,762),(661,809),(776,822),(808,822),(727,834),(735,834),(759,834),(793,834),(865,822),(891,809),(907,809),(718,859),(661,884),(760,910),(727,922),(695,934),(711,934),(669,947),(882,959),(914,959),(923,984),(752,997),(744,1009),(784,997),(654,1022),(711,1059),(727,1047),(793,1059),(801,1072),(899,1059),(923,1072),(948,1084),(669,1097),(793,1122),(711,1134),(703,1127),(784,1134),(752,1147),(718,1172),(874,1159),(891,1159),(923,1147),(940,1134),(833,1184),(654,1209),(695,1209),(882,1222),(899,1247),(661,1247),(669,1247),(686,1247),(744,1284),(735,1297),(809,1284),(809,1309),(752,1309),(695,1334),(842,1322),(842,1334),(695,1359),(744,1359),(825,1359),(661,1372),(669,1384),(759,1384),(891,1372),(923,1359),(718,1434),(906,1441),(932,1441),(940,1441),(948,10),(963,10),(914,10),(899,2),(882,22),(857,10),(1119,10),(1144,25),(1266,34),(1266,10),(1234,2),(955,50),(940,60),(923,97),(948,100),(1061,97),(1029,100),(1053,109),(1095,109),(1111,97),(1217,97),(1234,85),(1315,134),(1127,148),(1021,150),(1038,160),(939,156),(1168,160),(1087,172),(1144,172),(1021,184),(1291,184),(923,210),(914,235),(940,235),(1389,222),(906,247),(972,247),(1037,247),(1070,235),(948,260),(1381,247),(1136,260),(1012,272),(1029,272),(1217,272),(1078,298),(1242,298),(931,310),(1404,285),(1234,310),(1397,322),(931,334),(940,334),(985,334),(1053,339),(1168,347),(1159,360),(980,372),(1004,372),(1168,385),(1429,397),(931,447),(963,447),(1012,459),(1029,459),(1102,459),(1274,447),(1274,459),(1029,497),(1250,484),(1217,510),(1029,535),(1087,535),(1102,535),(963,559),(1012,547),(1119,559),(1119,572),(1185,547),(1217,547),(1274,572),(963,584),(1046,584),(1021,597),(1021,622),(1291,634),(1144,647),(1061,672),(1070,672),(1389,697),(1381,722),(940,722),(948,734),(1095,759),(1111,759),(1012,772),(1029,772),(955,797),(1185,797),(1176,809),(1136,822),(963,834),(997,834),(972,847),(1111,847),(1136,847),(1061,859),(989,897),(997,897),(931,922),(923,934),(940,934),(1053,959),(1061,959),(1168,959),(1144,972),(955,1009),(940,1034),(1087,1059),(1102,1059),(1242,1059),(1234,1072),(997,1072),(989,1072),(1012,1072),(948,1084),(1037,1084),(1250,1109),(1242,1122),(1046,1147),(1021,1159),(1029,1159),(1021,1172),(963,1172),(997,1184),(1144,1184),(1274,1197),(1029,1234),(1061,1234),(1127,1247),(1136,1247),(972,1247),(1029,1297),(980,1309),(997,1309),(963,1322),(1012,1347),(1102,1347),(1046,1372),(1004,1397),(972,1409),(1119,1409),(1111,1422)]
f_blue = [(156,2),(196,2),(17,22),(9,34),(130,34),(73,47),(115,47),(156,60),(0,60),(9,85),(24,85),(66,85),(221,97),(164,109),(17,134),(107,134),(123,148),(58,160),(139,160),(9,172),(9,184),(205,184),(237,184),(221,197),(49,210),(115,210),(66,235),(73,235),(228,247),(245,247),(122,260),(164,260),(32,272),(41,285),(172,285),(139,298),(9,322),(49,334),(245,334),(17,347),(58,347),(147,347),(32,359),(90,409),(41,422),(164,422),(205,422),(58,447),(172,459),(188,459),(49,497),(139,497),(66,522),(98,522),(107,522),(196,522),(130,535),(9,535),(17,547),(81,547),(205,572),(9,597),(41,609),(122,609),(228,622),(245,634),(90,659),(9,684),(17,697),(98,709),(122,722),(17,734),(66,734),(139,747),(24,759),(32,772),(115,772),(122,797),(24,797),(90,822),(41,834),(41,859),(58,859),(9,872),(41,884),(147,897),(9,910),(139,922),(66,947),(245,959),(81,972),(73,984),(32,997),(41,997),(147,1009),(179,1009),(17,1009),(81,1022),(49,1034),(41,1059),(156,1059),(188,1059),(107,1084),(9,1097),(32,1122),(49,1122),(115,1134),(196,1134),(81,1159),(115,1159),(66,1172),(9,1184),(32,1197),(98,1222),(66,1234),(32,1247),(41,1259),(98,1259),(9,1272),(32,1284),(17,1297),(32,1309),(9,1309),(81,1309),(73,1334),(98,1334),(9,1359),(32,1372),(98,1409),(32,1438),(107,1438),(130,1438),(409,10),(473,22),(522,10),(587,22),(360,34),(522,34),(375,60),(548,85),(637,85),(646,85),(360,97),(490,109),(375,122),(433,122),(646,134),(409,148),(424,148),(384,160),(531,172),(367,172),(450,184),(629,184),(703,197),(408,210),(661,210),(539,222),(571,222),(409,235),(548,235),(710,235),(360,247),(580,247),(433,260),(669,272),(776,272),(417,285),(352,298),(392,298),(563,298),(646,298),(727,298),(563,310),(759,310),(563,322),(727,322),(335,334),(417,334),(433,334),(369,347),(661,347),(801,334),(410,360),(760,360),(752,360),(767,360),(345,385),(865,385),(661,397),(759,376),(809,409),(507,422),(597,422),(352,434),(482,434),(669,434),(335,447),(433,447),(620,459),(681,459),(686,459),(433,472),(458,472),(580,472),(784,459),(793,459),(833,472),(784,484),(637,510),(531,522),(629,522),(360,535),(450,535),(473,535),(846,535),(851,535),(375,547),(490,547),(367,559),(646,559),(710,559),(825,559),(833,559),(909,559),(915,559),(638,572),(646,572),(718,572),(384,584),(384,597),(473,597),(514,597),(695,606),(392,622),(417,609),(507,622),(686,622),(816,622),(882,634),(401,634),(482,647),(507,647),(620,647),(661,647),(825,647),(335,659),(360,684),(343,709),(695,709),(718,709),(409,722),(490,734),(735,734),(744,734),(531,747),(416,747),(857,734),(318,759),(637,759),(873,747),(857,759),(695,759),(703,759),(678,772),(891,759),(899,759),(923,772),(450,784),(522,784),(531,784),(759,797),(409,797),(335,809),(384,809),(450,809),(718,809),(744,809),(514,822),(646,822),(686,822),(882,822),(931,822),(375,834),(409,834),(906,847),(597,859),(735,859),(801,859),(352,872),(637,872),(759,872),(360,884),(955,884),(335,897),(392,897),(548,897),(563,897),(710,897),(891,897),(409,910),(784,922),(718,922),(914,922),(360,934),(424,934),(654,934),(752,934),(948,934),(972,934),(563,947),(955,947),(556,972),(433,984),(473,984),(735,984),(857,984),(891,972),(940,959),(343,997),(367,997),(571,1009),(669,1009),(801,1009),(816,997),(318,1009),(401,1022),(450,1022),(703,1022),(816,1022),(392,1047),(450,1047),(669,1047),(686,1047),(752,1047),(874,1047),(360,1059),(580,1059),(767,1059),(833,1059),(375,1072),(441,1072),(744,1072),(686,1084),(718,1084),(335,1097),(450,1109),(490,1109),(703,1109),(629,1122),(686,1122),(776,1122),(842,1122),(899,1122),(914,1122),(335,1134),(326,1147),(351,1147),(620,1147),(637,1147),(465,1159),(612,1159),(744,1159),(776,1159),(360,1172),(424,1172),(637,1172),(326,1184),(343,1184),(367,1184),(450,1184),(686,1197),(784,1197),(857,1197),(801,1209),(825,1209),(899,1209),(669,1222),(686,1222),(809,1222),(833,1222),(874,1222),(360,1222),(375,1222),(392,1222),(401,1234),(637,1247),(703,1247),(718,1247),(416,1247),(318,1259),(351,1259),(375,1259),(793,1259),(923,1259),(367,1272),(375,1272),(465,1272),(931,1272),(637,1284),(678,1284),(906,1284),(669,1297),(759,1297),(793,1297),(392,1309),(473,1309),(499,1309),(450,1322),(825,1322),(857,1322),(326,1334),(351,1322),(384,1334),(409,1334),(654,1334),(727,1334),(485,1347),(490,1347),(718,1347),(417,1347),(352,1359),(915,1359),(367,1372),(710,1372),(727,1372),(776,1372),(809,1372),(955,1372),(923,1384),(940,1384),(833,1384),(352,1397),(661,1397),(686,1397),(833,1397),(335,1409),(465,1409),(669,1409),(710,1409),(906,1409),(744,1422),(931,1422),(367,1434),(375,1434),(620,1441),(695,1434),(940,10),(808,10),(989,10),(1151,2),(1176,2),(1217,10),(850,34),(865,34),(891,34),(955,34),(980,34),(1242,22),(1144,10),(865,85),(882,85),(940,85),(955,85),(1029,97),(1201,109),(1355,109),(1029,122),(1087,122),(857,122),(1021,134),(1348,134),(948,160),(1323,160),(1061,172),(1012,172),(825,160),(882,172),(940,172),(825,184),(874,184),(1119,184),(1323,184),(940,210),(963,222),(1095,210),(882,247),(1012,247),(1087,235),(1151,247),(1176,235),(1250,247),(1355,247),(923,260),(1242,260),(1111,272),(963,285),(997,285),(907,298),(955,298),(1102,298),(914,310),(1087,310),(1208,310),(1372,310),(1053,322),(997,334),(907,347),(923,347),(989,347),(1185,347),(1201,347),(940,360),(972,372),(1136,372),(1470,372),(1470,409),(997,422),(1119,434),(989,434),(891,459),(980,472),(1004,472),(980,484),(1046,484),(1061,484),(1250,459),(1119,459),(899,497),(914,510),(1225,497),(931,535),(1005,547),(1070,547),(1159,547),(1315,547),(1095,559),(906,559),(931,572),(1306,572),(1012,597),(948,622),(1038,622),(1053,622),(1176,622),(1323,622),(1323,634),(972,634),(931,634),(1144,634),(948,647),(1095,659),(1119,672),(1095,672),(1087,684),(1021,697),(1355,709),(914,722),(972,747),(1078,759),(1159,784),(1004,809),(1053,809),(1029,834),(1102,834),(1159,834),(1168,834),(980,872),(1004,872),(1095,872),(955,884),(914,922),(948,934),(972,934),(1038,934),(955,947),(940,959),(1201,959),(1201,972),(1159,984),(1185,984),(857,984),(972,1009),(997,1009),(1046,1022),(963,1034),(980,1034),(955,1047),(997,1059),(1208,1072),(972,1072),(963,1097),(980,1097),(1070,1097),(1046,1109),(1144,1134),(1217,1122),(989,1172),(1004,1172),(1046,1172),(1070,1159),(1078,1159),(1306,1197),(1053,1209),(1176,1209),(1298,1209),(1038,1222),(1110,1222),(940,1234),(923,1259),(931,1272),(972,1284),(963,1297),(1070,1309),(1046,1322),(1021,1334),(940,1347),(914,1359),(923,1359),(955,1372),(1127,1372),(1136,1372),(923,1384),(940,1384),(1087,1384),(1095,1397),(1061,1397),(906,1409),(940,1409),(931,1422),(972,1434),(1053,1434)]

g_red = [(409,0),(473,20),(384,33),(580,20),(245,45),(318,58),(752,58),(727,70),(863,45),(842,45),(1070,45),(458,82),(801,82),(635,82),(963,70),(1127,70),(1225,70),(1201,54),(1274,54),(1355,82),(1519,70),(940,94),(865,94),(433,94),(612,94),(343,107),(401,107),(507,107),(514,120),(686,120),(759,120),(784,120),(1208,120),(1234,120),(1250,120),(1536,120),(1560,107),(1144,136),(1364,132),(409,145),(580,145),(563,154),(889,145),(1208,157),(1257,145),(1511,145),(882,169),(343,183),(1257,169),(1511,169),(1053,183),(458,195),(686,195),(1136,195),(1193,195),(529,208),(629,208),(711,208),(948,208),(1560,208),(670,216),(556,232),(629,232),(1061,232),(1193,232),(931,244),(955,244),(1257,244),(1274,237),(277,258),(556,258),(1284,258),(335,270),(367,270),(1560,270),(343,283),(646,283),(891,283),(923,283),(1266,283),(514,295),(874,295),(1355,295),(450,307),(1185,307),(1200,320),(752,333),(940,333),(1217,333),(710,345),(816,345),(1528,345),(629,358),(612,370),(997,370),(1242,370),(1291,370),(989,382),(1217,394),(416,408),(514,408),(1242,408),(343,420),(874,420),(955,420),(205,433),(531,433),(906,433),(899,445),(1201,445),(482,457),(833,457),(997,457),(416,469),(531,469),(1242,483),(612,495),(441,508),(711,508),(1004,508),(1208,508),(1283,508),(629,520),(889,520),(923,520),(588,532),(842,532),(931,532),(1291,532),(352,544),(416,544),(1250,544),(727,570),(1291,570),(1298,583),(882,595),(1208,619),(458,632),(499,632),(669,632),(931,647),(669,658),(1234,658),(1306,658),(629,682),(669,720),(1250,708),(980,733),(1242,745),(686,770),(906,770),(1250,782),(433,795),(923,795),(1257,832),(923,832),(458,845),(940,857),(940,933),(646,982),(1225,1008),(1242,1033)]
g_blue = [(360,0),(433,0),(514,8),(548,8),(571,8),(597,8),(620,8),(703,8),(809,0),(865,8),(899,8),(956,0),(1012,0),(1225,8),(1355,0),(1487,0),(1544,8),(360,20),(409,20),(891,20),(1037,20),(1045,20),(343,33),(490,33),(499,33),(637,33),(760,33),(769,33),(1151,33),(1168,33),(1176,33),(1225,33),(1274,33),(1519,33),(972,45),(1266,45),(1502,45),(221,58),(286,58),(499,58),(571,58),(955,58),(989,58),(1061,58),(1087,58),(1560,70),(375,70),(490,70),(669,70),(907,70),(1185,70),(1201,70),(1274,70),(409,82),(441,82),(646,82),(825,82),(1102,82),(1544,82),(277,94),(514,94),(695,94),(891,94),(923,94),(1208,94),(1250,94),(1291,94),(1347,94),(1487,94),(1551,94),(482,107),(548,107),(588,107),(620,107),(629,107),(711,107),(907,107),(923,107),(1266,107),(1274,107),(1355,107),(556,120),(1144,120),(654,133),(793,133),(850,133),(972,133),(1004,133),(874,145),(1119,145),(1193,145),(1225,145),(1250,145),(1479,145),(352,157),(906,157),(955,157),(1070,157),(1355,157),(1372,157),(375,169),(424,169),(499,169),(563,169),(597,169),(669,183),(972,183),(1102,183),(1208,183),(1225,183),(482,195),(735,195),(865,195),(1250,195),(1291,195),(311,208),(409,208),(499,208),(539,208),(612,208),(661,208),(1078,208),(923,220),(989,220),(1274,220),(343,232),(612,232),(669,232),(923,232),(948,232),(972,232),(1528,232),(1551,232),(286,244),(424,244),(465,244),(588,244),(686,244),(718,244),(907,244),(1421,244),(776,258),(914,258),(1217,258),(1274,258),(450,270),(514,270),(531,270),(580,270),(686,270),(857,270),(1136,270),(1372,270),(1551,270),(588,283),(1012,283),(1225,283),(1257,283),(1315,283),(539,295),(629,295),(669,295),(842,295),(1168,295),(1487,295),(1551,295),(857,307),(1208,307),(1234,307),(735,320),(1242,320),(1568,320),(784,333),(923,333),(514,345),(563,345),(931,345),(1551,345),(409,358),(752,358),(963,358),(980,358),(1168,358),(286,370),(424,370),(914,370),(1012,370),(458,382),(563,382),(637,382),(703,382),(735,382),(1061,382),(1283,382),(1306,382),(857,394),(1242,394),(588,408),(899,408),(1283,408),(1291,408),(473,420),(646,420),(718,420),(1159,420),(1201,420),(1560,420),(311,433),(703,433),(842,433),(1217,433),(1544,433),(367,445),(514,445),(955,445),(752,457),(1208,457),(375,469),(629,469),(661,469),(857,469),(980,469),(482,483),(744,483),(997,483),(1291,483),(401,495),(416,495),(646,495),(899,495),(914,508),(989,508),(1225,508),(597,520),(678,520),(767,520),(1274,520),(1306,520),(507,532),(1012,532),(1225,532),(1234,532),(882,544),(1078,544),(1208,544),(997,557),(1176,557),(1560,557),(1225,583),(531,595),(612,607),(686,607),(1257,607),(409,619),(450,619),(661,619),(931,632),(940,632),(482,645),(1021,645),(458,658),(1332,658),(914,670),(931,670),(1250,670),(1298,682),(458,720),(661,745),(727,745),(931,745),(669,770),(1217,770),(473,795),(948,795),(686,808),(1234,820),(686,832),(1234,832),(1250,870),(695,945),(931,958),(972,958),(1250,958),(424,970)]

h_red = [(9,2),(409,9),(473,0),(17,33),(49,45),(269,33),(335,20),(9,33),(115,70),(303,58),(367,58),(482,70),(343,82),(416,86),(424,58),(122,120),(107,109),(58,107),(343,107),(17,120),(58,120),(491,120),(360,132),(416,129),(58,107),(41,145),(17,145),(123,157),(352,145),(49,169),(384,169),(367,208),(424,208),(66,220),(17,220),(303,232),(433,220),(66,244),(122,244),(490,244),(409,258),(335,270),(360,283),(367,283),(441,283),(465,283),(17,283),(424,295),(450,295),(490,295),(335,320),(9,320),(49,333),(384,358),(360,370),(66,370),(17,382),(450,408),(458,408),(375,433),(401,445),(73,433),(81,445),(9,433),(17,483),(24,483),(392,495),(367,508),(9,508),(73,508),(81,557),(9,557),(409,557),(458,557),(416,570),(41,570),(9,583),(32,595),(81,595),(458,595),(465,607),(375,619),(473,632),(49,658),(409,658),(41,708),(73,708),(465,708),(409,733),(73,745),(401,757),(433,757),(441,782),(433,845),(24,857),(441,883),(32,895),(32,908),(49,933),(41,1008),(450,1095),(458,1120),(776,8),(814,8),(801,20),(851,8),(1151,20),(1193,8),(1266,8),(1283,20),(1298,8),(1144,45),(1225,45),(793,94),(882,107),(1136,82),(1151,94),(1291,94),(890,120),(767,133),(1151,133),(1176,133),(1201,133),(718,145),(767,157),(833,149),(816,157),(891,157),(899,169),(1183,145),(1298,145),(1225,157),(1168,169),(760,183),(825,195),(1201,183),(1266,195),(825,216),(1193,208),(899,244),(776,260),(842,258),(1193,258),(1225,258),(784,283),(842,295),(1323,283),(1331,283),(809,333),(1159,333),(1225,333),(1250,345),(842,358),(1185,358),(1234,358),(1168,370),(773,382),(825,408),(1234,408),(759,420),(833,445),(842,457),(874,469),(860,469),(1185,433),(1208,445),(1257,445),(1225,495),(1217,520),(816,544),(857,544),(1201,557),(1242,570),(1257,583),(865,583),(1274,595),(1234,607),(816,607),(816,621),(842,621),(1225,632),(1266,632),(1291,645),(850,720),(1225,708),(1217,720),(1291,733),(882,757),(891,782),(1234,808),(1242,808),(1266,808),(1257,832),(850,883),(1242,883),(850,920),(865,932),(1257,920),(865,970),(865,1045),(1266,1120),(1274,1132),(1536,20),(1544,58),(1519,283),(1560,258),(1536,469),(1560,195),(1544,208),(1551,216),(1568,183),(1568,295),(1568,433)]
h_blue = [(32,8),(107,20),(41,33),(24,33),(17,70),(41,70),(9,82),(107,94),(9,107),(107,100),(41,120),(49,120),(115,133),(9,133),(49,157),(9,169),(32,169),(32,195),(32,208),(32,232),(49,232),(49,258),(130,258),(9,283),(41,283),(58,283),(73,270),(73,283),(98,307),(17,320),(17,345),(73,358),(73,394),(32,408),(17,420),(32,433),(32,495),(49,495),(32,520),(58,532),(41,544),(66,544),(66,583),(24,619),(66,670),(24,682),(41,682),(49,733),(66,733),(49,808),(58,845),(17,995),(17,1045),(367,0),(416,8),(401,45),(433,45),(465,58),(416,70),(433,70),(303,82),(303,94),(375,94),(360,107),(465,107),(473,107),(392,120),(482,120),(326,133),(450,133),(416,145),(326,157),(335,157),(473,157),(303,169),(433,169),(352,220),(482,232),(360,232),(286,244),(450,244),(458,244),(254,258),(360,258),(416,270),(375,320),(360,320),(441,320),(360,333),(318,370),(401,382),(450,382),(458,394),(367,408),(473,420),(360,433),(458,457),(375,495),(392,520),(458,520),(367,557),(473,557),(326,583),(401,583),(416,595),(392,607),(424,619),(416,670),(450,682),(424,720),(450,733),(401,845),(416,895),(441,920),(458,958),(450,1057),(686,0),(842,0),(825,8),(882,8),(711,20),(784,33),(711,58),(735,58),(744,58),(752,70),(793,70),(842,70),(686,82),(744,82),(891,82),(711,94),(899,120),(825,133),(833,133),(752,145),(809,145),(801,157),(727,169),(784,183),(759,195),(882,220),(801,232),(825,232),(776,244),(801,258),(891,258),(882,270),(744,283),(711,295),(776,295),(801,295),(825,307),(842,307),(767,307),(825,320),(793,345),(752,358),(784,382),(842,394),(767,408),(857,420),(793,445),(816,445),(850,469),(809,508),(842,544),(776,557),(833,557),(833,583),(857,595),(833,607),(874,607),(776,632),(882,645),(816,682),(882,733),(809,745),(842,782),(850,795),(842,808),(842,857),(857,908),(865,1095),(874,1120),(1144,8),(1176,8),(1217,8),(1201,20),(1242,20),(1185,45),(1201,45),(1159,58),(1225,58),(1242,58),(1193,107),(1201,107),(1274,120),(1306,120),(1225,133),(1306,133),(1193,145),(1151,157),(1217,157),(1283,157),(1225,169),(1257,169),(1323,169),(1234,183),(1185,195),(1208,195),(1257,195),(1159,208),(1225,208),(1242,220),(1176,232),(1217,244),(1315,258),(1185,283),(1208,283),(1250,295),(1159,307),(1242,307),(1201,320),(1291,320),(1193,333),(1217,333),(1242,333),(1250,370),(1225,382),(1274,394),(1234,433),(1250,433),(1201,457),(1242,457),(1274,457),(1185,495),(1257,495),(1266,495),(1291,520),(1225,570),(1266,570),(1250,607),(1291,607),(1283,619),(1298,632),(1242,645),(1225,658),(1250,670),(1274,695),(1266,745),(1291,757),(1257,770),(1298,782),(1266,908),(1242,933),(1283,945),(1266,982),(1274,1082),(1528,45),(1536,70),(1544,82),(1560,82),(1560,107),(1536,145),(1568,157),(1544,195),(1551,232),(1568,283),(1551,320),(1560,358),(1560,370),(1551,382),(1568,445)]

i_red = [(17,0),(118,0),(73,20),(81,33),(9,58),(17,58),(58,70),(73,70),(0,82),(24,120),(130,123),(147,133),(0,169),(9,169),(24,169),(107,157),(139,169),(156,183),(58,195),(66,208),(98,244),(41,258),(164,270),(9,295),(58,320),(81,320),(24,333),(73,333),(58,408),(73,408),(66,433),(0,433),(58,457),(73,495),(9,508),(90,532),(98,520),(107,520),(81,544),(41,583),(98,607),(9,619),(24,619),(115,645),(32,660),(24,682),(49,695),(73,695),(32,708),(49,770),(130,795),(139,808),(64,808),(73,958),(90,982),(81,1008),(107,1033),(107,1108),(409,33),(522,33),(416,45),(514,45),(384,58),(352,70),(458,70),(507,70),(352,94),(367,120),(433,120),(522,120),(392,145),(539,169),(375,183),(400,183),(424,183),(424,195),(360,220),(499,208),(401,244),(499,244),(450,232),(401,283),(409,295),(384,307),(433,320),(567,307),(571,307),(424,370),(465,370),(482,382),(392,394),(400,394),(441,394),(458,394),(384,420),(375,433),(433,445),(465,445),(384,495),(473,495),(450,508),(392,520),(433,557),(482,570),(424,583),(473,632),(401,645),(465,645),(490,670),(499,670),(450,695),(499,708),(514,708),(424,720),(522,782),(424,808),(441,895),(458,908),(465,908),(465,982),(482,1033),(514,1195),(539,1207),(686,20),(695,20),(718,0),(760,33),(857,33),(906,8),(931,8),(940,8),(833,45),(744,45),(711,60),(686,94),(711,120),(727,120),(816,120),(801,133),(882,157),(710,183),(744,195),(899,183),(923,169),(940,157),(940,183),(997,183),(1029,183),(891,208),(914,220),(948,220),(989,220),(744,220),(776,220),(727,232),(833,244),(752,258),(825,283),(678,295),(695,295),(718,307),(809,307),(907,320),(931,307),(931,320),(963,307),(989,320),(744,333),(784,370),(703,382),(718,382),(727,394),(801,394),(759,408),(669,420),(752,420),(931,408),(997,408),(1004,408),(1061,408),(793,469),(801,469),(767,508),(784,508),(703,532),(718,557),(784,570),(825,583),(833,583),(809,595),(735,619),(752,632),(793,645),(850,645),(825,682),(825,708),(735,733),(752,733),(833,733),(793,782),(752,795),(767,795),(809,808),(752,820),(882,870),(891,870),(793,920),(825,1070),(809,1082),(816,1120),(842,1120),(850,1207),(1078,20),(1070,33),(1004,58),(940,58),(963,82),(955,94),(1095,94),(1119,107),(1144,94),(1151,82),(1038,132),(931,120),(955,145),(940,157),(923,169),(882,157),(1144,195),(899,183),(1151,232),(1021,270),(997,270),(1029,258),(997,295),(1037,295),(931,307),(963,307),(906,320),(989,320),(1070,320),(1144,320),(1136,345),(1234,370),(1234,394),(931,408),(1061,408),(1078,445),(1070,457),(1029,469),(1012,483),(1021,495),(1037,508),(1061,508),(1021,520),(980,520),(948,532),(1095,532),(963,557),(1053,595),(1029,607),(940,619),(980,645),(997,670),(1012,695),(1119,682),(1095,720),(1102,745),(963,757),(1078,757),(1087,770),(1119,795),(1102,808),(989,820),(1037,820),(1127,883),(1053,933),(989,945),(1046,1008),(1029,1020),(1021,1045),(1078,1033),(1053,1108),(1070,1145),(1119,1333)]
i_blue = [(9,0),(32,8),(81,20),(107,8),(130,8),(122,33),(32,45),(107,58),(66,82),(81,82),(98,82),(98,94),(130,107),(32,133),(9,157),(32,157),(90,157),(147,157),(32,169),(66,169),(98,195),(9,208),(17,208),(107,208),(24,232),(0,283),(41,283),(49,295),(164,295),(172,295),(73,333),(66,345),(90,345),(73,358),(73,370),(24,370),(49,370),(90,370),(164,370),(66,382),(41,420),(0,445),(17,469),(90,469),(24,495),(98,495),(81,508),(32,520),(41,520),(17,583),(66,583),(73,607),(107,619),(58,632),(98,632),(32,645),(123,670),(107,682),(41,695),(41,770),(139,770),(41,808),(73,808),(66,832),(81,870),(73,895),(90,933),(123,1132),(115,1170),(367,20),(392,20),(409,20),(507,20),(499,45),(343,58),(450,58),(343,82),(367,82),(384,82),(473,70),(417,107),(360,145),(392,145),(539,145),(384,157),(531,157),(408,183),(473,183),(384,195),(548,195),(441,208),(539,208),(392,220),(409,220),(424,232),(458,232),(352,244),(416,244),(367,270),(375,283),(392,283),(563,283),(367,295),(360,333),(417,333),(392,345),(424,345),(441,345),(409,358),(400,370),(367,382),(384,382),(433,394),(424,408),(433,420),(375,469),(417,469),(441,508),(433,520),(465,520),(367,520),(424,532),(458,532),(465,557),(401,570),(441,583),(384,619),(499,632),(392,645),(473,645),(514,658),(409,682),(482,682),(433,695),(408,720),(416,720),(441,757),(465,757),(424,770),(522,820),(539,832),(416,832),(458,870),(490,1020),(465,1033),(507,1057),(482,1070),(514,1145),(620,8),(695,0),(727,20),(711,45),(727,58),(735,58),(654,70),(793,70),(850,70),(865,58),(865,70),(931,58),(850,94),(686,107),(678,120),(891,120),(686,133),(703,133),(906,107),(727,145),(752,157),(776,157),(793,157),(865,145),(718,169),(874,183),(727,208),(718,232),(767,232),(850,232),(727,258),(669,270),(695,270),(744,270),(784,258),(801,270),(767,283),(710,295),(825,307),(735,345),(752,345),(767,358),(695,358),(776,420),(784,408),(816,420),(710,433),(793,433),(686,445),(695,457),(744,445),(784,445),(865,445),(752,483),(793,495),(842,508),(776,544),(703,544),(711,544),(816,557),(735,570),(727,583),(744,595),(809,632),(710,658),(776,682),(809,670),(735,720),(767,720),(718,733),(842,708),(850,708),(865,745),(850,757),(874,832),(767,857),(776,870),(776,945),(793,945),(801,958),(809,958),(801,1033),(816,1070),(833,1233),(882,1258),(972,0),(1053,0),(955,33),(931,58),(989,70),(989,94),(1012,94),(1029,82),(1078,82),(1127,82),(1046,107),(955,169),(980,145),(989,157),(1087,145),(874,183),(1168,208),(850,232),(923,258),(940,244),(948,244),(972,244),(1046,244),(1070,258),(1176,232),(1176,258),(1185,270),(1004,258),(1021,295),(1119,295),(1004,320),(1053,320),(914,333),(948,333),(955,345),(989,345),(1095,345),(1201,358),(923,370),(940,382),(980,382),(948,394),(1119,433),(1061,445),(963,457),(1004,457),(1038,469),(1111,457),(923,483),(1004,495),(1053,520),(1004,532),(1038,544),(980,557),(923,595),(963,619),(1087,619),(1037,632),(1061,632),(1053,645),(1021,682),(972,708),(1078,708),(1168,708),(1061,733),(1151,745),(1087,757),(972,782),(955,808),(989,845),(980,870),(1029,870),(1078,870),(980,895),(1159,920),(1144,933),(1004,970),(1021,982),(1004,1082),(1029,1145),(1095,1145),(1046,1183),(1102,1195),(1110,1282)]

# Tile origins in plane units (left, top)
a_org = (0, 50); b_org = (800, 50); c_org = (1600, 50)
d_org = (0, 530); e_org = (800, 530); f_org = (1600, 530)
g_org = (0, 1010); h_org = (800, 1010); i_org = (1600, 1010)

red_sets = [(a_red,a_org),(b_red,b_org),(c_red,c_org),(d_red,d_org),(e_red,e_org),(e_red_2,e_org),(e_red_3,e_org),(f_red,f_org),(g_red,g_org),(h_red,h_org),(i_red,i_org)]
blue_sets = [(a_blue,a_org),(b_blue,b_org),(c_blue,c_org),(d_blue,d_org),(e_blue,e_org),(e_blue_3,e_org),(f_blue,f_org),(g_blue,g_org),(h_blue,h_org),(i_blue,i_org)]

def plane(sets):
    xs, ys = [], []
    for pts, (ox, oy) in sets:
        for u, v in pts:
            xs.append(ox + u / UNIT_U)
            ys.append(oy + v / UNIT_V)
    return xs, ys

rx, ry = plane(red_sets)
bx, by = plane(blue_sets)

fig = go.Figure()
fig.add_trace(go.Scatter(x=rx, y=ry, mode="markers", name="Class 1", cliponaxis=False, hoverinfo="skip",
                         marker=dict(symbol="square", size=6.5, color="#ff0000", line=dict(width=0))))
fig.add_trace(go.Scatter(x=bx, y=by, mode="markers", name="Class 2", cliponaxis=False, hoverinfo="skip",
                         marker=dict(symbol="square", size=6.5, color="#0000ff", line=dict(width=0))))
fig.update_layout(width=2400, height=1484, margin=dict(l=0, r=0, t=0, b=0),
                  paper_bgcolor="white", plot_bgcolor="white", showlegend=False,
                  xaxis=dict(range=[0, 2400], visible=False),
                  yaxis=dict(range=[1484, 0], visible=False))
page_style = ("document.body.style.margin='0';"
              "var s=document.createElement('style');"
              "s.textContent='.scatterlayer path.point{shape-rendering:crispEdges}';"
              "document.head.appendChild(s);")
fig.write_html("out.html", config={"displayModeBar": False}, post_script=page_style)
